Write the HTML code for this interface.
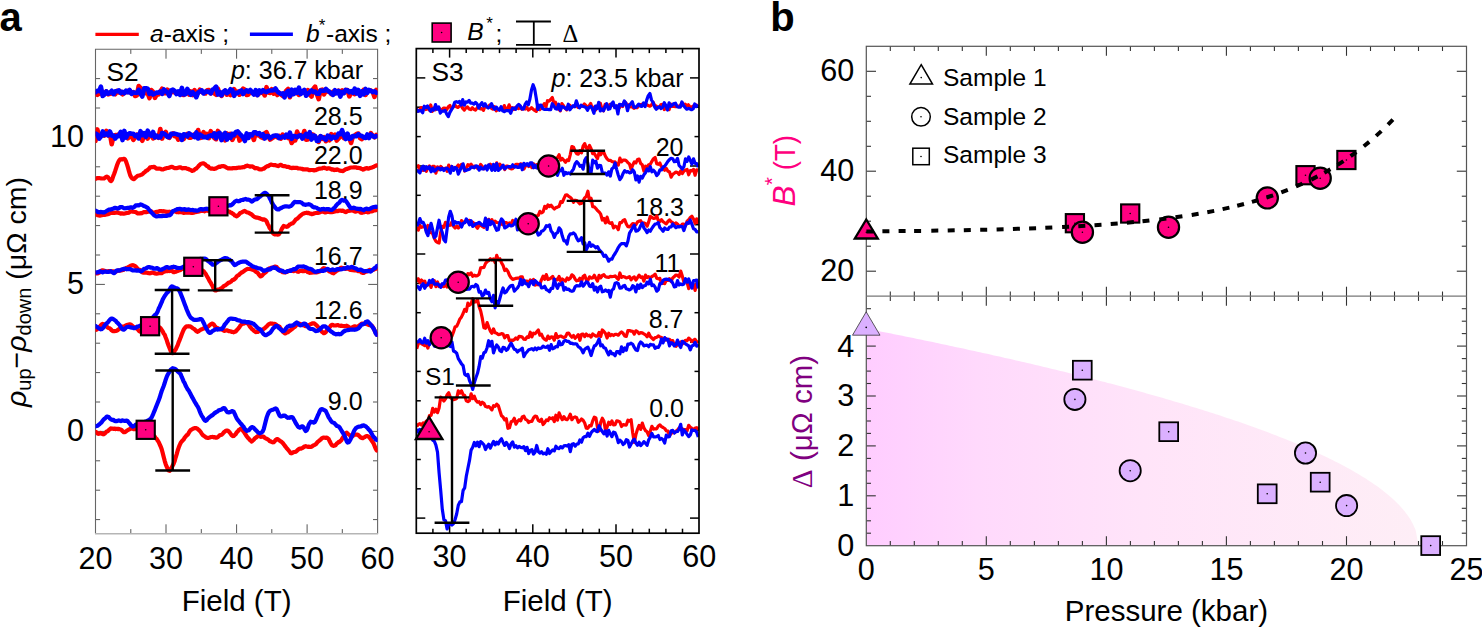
<!DOCTYPE html>
<html><head><meta charset="utf-8"><style>
html,body{margin:0;padding:0;background:#fff;}
body{width:1482px;height:628px;overflow:hidden;}
svg{display:block;}
</style></head><body>
<svg width="1482" height="628" viewBox="0 0 1482 628" font-family='"Liberation Sans", sans-serif'>
<defs>
<clipPath id="c2"><rect x="95.5" y="49.3" width="282.1" height="484.4"/></clipPath>
<clipPath id="c3"><rect x="416.3" y="48.6" width="282.7" height="484.6"/></clipPath>
<linearGradient id="pg" x1="0" x2="1" y1="0" y2="0"><stop offset="0" stop-color="#ffcdff"/><stop offset="0.2" stop-color="#ffd9fc"/><stop offset="0.5" stop-color="#ffe4f9"/><stop offset="1" stop-color="#feeef6"/></linearGradient>
</defs>
<rect width="1482" height="628" fill="#fff"/>
<text x="-0.5" y="30.8" font-size="40" font-weight="bold">a</text>
<text x="770.3" y="30.8" font-size="40" font-weight="bold">b</text>
<line x1="95.4" y1="34.4" x2="138.8" y2="34.4" stroke="#ff0000" stroke-width="3.4"/>
<line x1="249.9" y1="34.3" x2="292.9" y2="34.3" stroke="#0000ff" stroke-width="3.4"/>
<text x="150" y="42" font-size="24.5"><tspan font-style="italic">a</tspan>-axis ;</text>
<text x="306" y="42" font-size="24.5" font-style="italic">b</text>
<text x="318.7" y="30.7" font-size="17">*</text>
<text x="326" y="42" font-size="24.5">-axis ;</text>
<rect x="432.2" y="23.1" width="18.9" height="18.9" fill="#ff0080" stroke="#000" stroke-width="1.6"/>
<circle cx="441.6" cy="32.5" r="0.8" fill="#000"/>
<text x="467.3" y="40.4" font-size="24.6" font-style="italic">B</text>
<text x="486.2" y="29.3" font-size="17">*</text>
<text x="495.5" y="41.5" font-size="24.5">;</text>
<g stroke="#000" stroke-width="1.8"><line x1="516" y1="21.5" x2="550.9" y2="21.5"/><line x1="516" y1="44.9" x2="550.9" y2="44.9"/><line x1="533.8" y1="21.5" x2="533.8" y2="44.9"/></g>
<text x="562.5" y="41.5" font-size="24.5" font-family="Liberation Serif">Δ</text>
<line x1="130.8" y1="533.7" x2="130.8" y2="529.1" stroke="#555" stroke-width="1"/>
<line x1="130.8" y1="49.3" x2="130.8" y2="53.9" stroke="#555" stroke-width="1"/>
<line x1="166.0" y1="533.7" x2="166.0" y2="524.3" stroke="#555" stroke-width="1"/>
<line x1="166.0" y1="49.3" x2="166.0" y2="58.7" stroke="#555" stroke-width="1"/>
<line x1="201.3" y1="533.7" x2="201.3" y2="529.1" stroke="#555" stroke-width="1"/>
<line x1="201.3" y1="49.3" x2="201.3" y2="53.9" stroke="#555" stroke-width="1"/>
<line x1="236.6" y1="533.7" x2="236.6" y2="524.3" stroke="#555" stroke-width="1"/>
<line x1="236.6" y1="49.3" x2="236.6" y2="58.7" stroke="#555" stroke-width="1"/>
<line x1="271.8" y1="533.7" x2="271.8" y2="529.1" stroke="#555" stroke-width="1"/>
<line x1="271.8" y1="49.3" x2="271.8" y2="53.9" stroke="#555" stroke-width="1"/>
<line x1="307.1" y1="533.7" x2="307.1" y2="524.3" stroke="#555" stroke-width="1"/>
<line x1="307.1" y1="49.3" x2="307.1" y2="58.7" stroke="#555" stroke-width="1"/>
<line x1="342.3" y1="533.7" x2="342.3" y2="529.1" stroke="#555" stroke-width="1"/>
<line x1="342.3" y1="49.3" x2="342.3" y2="53.9" stroke="#555" stroke-width="1"/>
<line x1="95.5" y1="519.6" x2="100.1" y2="519.6" stroke="#555" stroke-width="1"/>
<line x1="377.6" y1="519.6" x2="373.0" y2="519.6" stroke="#555" stroke-width="1"/>
<line x1="95.5" y1="490.2" x2="100.1" y2="490.2" stroke="#555" stroke-width="1"/>
<line x1="377.6" y1="490.2" x2="373.0" y2="490.2" stroke="#555" stroke-width="1"/>
<line x1="95.5" y1="460.8" x2="100.1" y2="460.8" stroke="#555" stroke-width="1"/>
<line x1="377.6" y1="460.8" x2="373.0" y2="460.8" stroke="#555" stroke-width="1"/>
<line x1="95.5" y1="431.4" x2="104.9" y2="431.4" stroke="#555" stroke-width="1"/>
<line x1="377.6" y1="431.4" x2="368.2" y2="431.4" stroke="#555" stroke-width="1"/>
<line x1="95.5" y1="402.0" x2="100.1" y2="402.0" stroke="#555" stroke-width="1"/>
<line x1="377.6" y1="402.0" x2="373.0" y2="402.0" stroke="#555" stroke-width="1"/>
<line x1="95.5" y1="372.6" x2="100.1" y2="372.6" stroke="#555" stroke-width="1"/>
<line x1="377.6" y1="372.6" x2="373.0" y2="372.6" stroke="#555" stroke-width="1"/>
<line x1="95.5" y1="343.2" x2="100.1" y2="343.2" stroke="#555" stroke-width="1"/>
<line x1="377.6" y1="343.2" x2="373.0" y2="343.2" stroke="#555" stroke-width="1"/>
<line x1="95.5" y1="313.8" x2="100.1" y2="313.8" stroke="#555" stroke-width="1"/>
<line x1="377.6" y1="313.8" x2="373.0" y2="313.8" stroke="#555" stroke-width="1"/>
<line x1="95.5" y1="284.4" x2="104.9" y2="284.4" stroke="#555" stroke-width="1"/>
<line x1="377.6" y1="284.4" x2="368.2" y2="284.4" stroke="#555" stroke-width="1"/>
<line x1="95.5" y1="255.0" x2="100.1" y2="255.0" stroke="#555" stroke-width="1"/>
<line x1="377.6" y1="255.0" x2="373.0" y2="255.0" stroke="#555" stroke-width="1"/>
<line x1="95.5" y1="225.6" x2="100.1" y2="225.6" stroke="#555" stroke-width="1"/>
<line x1="377.6" y1="225.6" x2="373.0" y2="225.6" stroke="#555" stroke-width="1"/>
<line x1="95.5" y1="196.2" x2="100.1" y2="196.2" stroke="#555" stroke-width="1"/>
<line x1="377.6" y1="196.2" x2="373.0" y2="196.2" stroke="#555" stroke-width="1"/>
<line x1="95.5" y1="166.8" x2="100.1" y2="166.8" stroke="#555" stroke-width="1"/>
<line x1="377.6" y1="166.8" x2="373.0" y2="166.8" stroke="#555" stroke-width="1"/>
<line x1="95.5" y1="137.4" x2="104.9" y2="137.4" stroke="#555" stroke-width="1"/>
<line x1="377.6" y1="137.4" x2="368.2" y2="137.4" stroke="#555" stroke-width="1"/>
<line x1="95.5" y1="108.0" x2="100.1" y2="108.0" stroke="#555" stroke-width="1"/>
<line x1="377.6" y1="108.0" x2="373.0" y2="108.0" stroke="#555" stroke-width="1"/>
<line x1="95.5" y1="78.6" x2="100.1" y2="78.6" stroke="#555" stroke-width="1"/>
<line x1="377.6" y1="78.6" x2="373.0" y2="78.6" stroke="#555" stroke-width="1"/>
<path d="M95.5 533.7V49.3H377.6V533.7" fill="none" stroke="#666" stroke-width="1.1"/>
<line x1="95" y1="533.7" x2="378.1" y2="533.7" stroke="#b5b5b5" stroke-width="1.4"/>
<text x="84" y="441.1" font-size="30.6" text-anchor="end">0</text>
<text x="84" y="294.1" font-size="30.6" text-anchor="end">5</text>
<text x="84" y="147.1" font-size="30.6" text-anchor="end">10</text>
<text x="95.5" y="569.2" font-size="30.6" text-anchor="middle">20</text>
<text x="166.0" y="569.2" font-size="30.6" text-anchor="middle">30</text>
<text x="236.6" y="569.2" font-size="30.6" text-anchor="middle">40</text>
<text x="307.1" y="569.2" font-size="30.6" text-anchor="middle">50</text>
<text x="377.6" y="569.2" font-size="30.6" text-anchor="middle">60</text>
<text x="236.6" y="611.3" font-size="29.5" text-anchor="middle">Field (T)</text>
<text transform="translate(25.5,292) rotate(-90)" font-size="28.5" text-anchor="middle"><tspan font-style="italic">ρ</tspan><tspan font-size="20" dy="5">up</tspan><tspan dy="-5">−</tspan><tspan font-style="italic">ρ</tspan><tspan font-size="20" dy="5">down</tspan><tspan dy="-5"> (μΩ cm)</tspan></text>
<text x="106.5" y="80.6" font-size="26.3">S2</text>
<text x="363" y="78.5" font-size="25" text-anchor="end"><tspan font-style="italic">p</tspan>: 36.7 kbar</text>
<text x="362.6" y="124.8" font-size="25" text-anchor="end">28.5</text>
<text x="362.6" y="163.7" font-size="25" text-anchor="end">22.0</text>
<text x="362.6" y="198.7" font-size="25" text-anchor="end">18.9</text>
<text x="362.6" y="264.8" font-size="25" text-anchor="end">16.7</text>
<text x="362.6" y="319.3" font-size="25" text-anchor="end">12.6</text>
<text x="362.6" y="410.1" font-size="25" text-anchor="end">9.0</text>
<line x1="432.9" y1="533.2" x2="432.9" y2="528.7" stroke="#000" stroke-width="1.5"/>
<line x1="432.9" y1="48.6" x2="432.9" y2="53.1" stroke="#000" stroke-width="1.5"/>
<line x1="449.6" y1="533.2" x2="449.6" y2="524.2" stroke="#000" stroke-width="1.5"/>
<line x1="449.6" y1="48.6" x2="449.6" y2="57.6" stroke="#000" stroke-width="1.5"/>
<line x1="466.2" y1="533.2" x2="466.2" y2="528.7" stroke="#000" stroke-width="1.5"/>
<line x1="466.2" y1="48.6" x2="466.2" y2="53.1" stroke="#000" stroke-width="1.5"/>
<line x1="482.9" y1="533.2" x2="482.9" y2="528.7" stroke="#000" stroke-width="1.5"/>
<line x1="482.9" y1="48.6" x2="482.9" y2="53.1" stroke="#000" stroke-width="1.5"/>
<line x1="499.5" y1="533.2" x2="499.5" y2="528.7" stroke="#000" stroke-width="1.5"/>
<line x1="499.5" y1="48.6" x2="499.5" y2="53.1" stroke="#000" stroke-width="1.5"/>
<line x1="516.1" y1="533.2" x2="516.1" y2="528.7" stroke="#000" stroke-width="1.5"/>
<line x1="516.1" y1="48.6" x2="516.1" y2="53.1" stroke="#000" stroke-width="1.5"/>
<line x1="532.8" y1="533.2" x2="532.8" y2="524.2" stroke="#000" stroke-width="1.5"/>
<line x1="532.8" y1="48.6" x2="532.8" y2="57.6" stroke="#000" stroke-width="1.5"/>
<line x1="549.4" y1="533.2" x2="549.4" y2="528.7" stroke="#000" stroke-width="1.5"/>
<line x1="549.4" y1="48.6" x2="549.4" y2="53.1" stroke="#000" stroke-width="1.5"/>
<line x1="566.1" y1="533.2" x2="566.1" y2="528.7" stroke="#000" stroke-width="1.5"/>
<line x1="566.1" y1="48.6" x2="566.1" y2="53.1" stroke="#000" stroke-width="1.5"/>
<line x1="582.7" y1="533.2" x2="582.7" y2="528.7" stroke="#000" stroke-width="1.5"/>
<line x1="582.7" y1="48.6" x2="582.7" y2="53.1" stroke="#000" stroke-width="1.5"/>
<line x1="599.3" y1="533.2" x2="599.3" y2="528.7" stroke="#000" stroke-width="1.5"/>
<line x1="599.3" y1="48.6" x2="599.3" y2="53.1" stroke="#000" stroke-width="1.5"/>
<line x1="616.0" y1="533.2" x2="616.0" y2="524.2" stroke="#000" stroke-width="1.5"/>
<line x1="616.0" y1="48.6" x2="616.0" y2="57.6" stroke="#000" stroke-width="1.5"/>
<line x1="632.6" y1="533.2" x2="632.6" y2="528.7" stroke="#000" stroke-width="1.5"/>
<line x1="632.6" y1="48.6" x2="632.6" y2="53.1" stroke="#000" stroke-width="1.5"/>
<line x1="649.3" y1="533.2" x2="649.3" y2="528.7" stroke="#000" stroke-width="1.5"/>
<line x1="649.3" y1="48.6" x2="649.3" y2="53.1" stroke="#000" stroke-width="1.5"/>
<line x1="665.9" y1="533.2" x2="665.9" y2="528.7" stroke="#000" stroke-width="1.5"/>
<line x1="665.9" y1="48.6" x2="665.9" y2="53.1" stroke="#000" stroke-width="1.5"/>
<line x1="682.5" y1="533.2" x2="682.5" y2="528.7" stroke="#000" stroke-width="1.5"/>
<line x1="682.5" y1="48.6" x2="682.5" y2="53.1" stroke="#000" stroke-width="1.5"/>
<line x1="416.3" y1="77.9" x2="425.3" y2="77.9" stroke="#000" stroke-width="1.5"/>
<line x1="699" y1="77.9" x2="690.0" y2="77.9" stroke="#000" stroke-width="1.5"/>
<line x1="416.3" y1="107.2" x2="420.8" y2="107.2" stroke="#000" stroke-width="1.5"/>
<line x1="699" y1="107.2" x2="694.5" y2="107.2" stroke="#000" stroke-width="1.5"/>
<line x1="416.3" y1="136.6" x2="420.8" y2="136.6" stroke="#000" stroke-width="1.5"/>
<line x1="699" y1="136.6" x2="694.5" y2="136.6" stroke="#000" stroke-width="1.5"/>
<line x1="416.3" y1="166.0" x2="425.3" y2="166.0" stroke="#000" stroke-width="1.5"/>
<line x1="699" y1="166.0" x2="690.0" y2="166.0" stroke="#000" stroke-width="1.5"/>
<line x1="416.3" y1="195.3" x2="420.8" y2="195.3" stroke="#000" stroke-width="1.5"/>
<line x1="699" y1="195.3" x2="694.5" y2="195.3" stroke="#000" stroke-width="1.5"/>
<line x1="416.3" y1="224.7" x2="420.8" y2="224.7" stroke="#000" stroke-width="1.5"/>
<line x1="699" y1="224.7" x2="694.5" y2="224.7" stroke="#000" stroke-width="1.5"/>
<line x1="416.3" y1="254.0" x2="425.3" y2="254.0" stroke="#000" stroke-width="1.5"/>
<line x1="699" y1="254.0" x2="690.0" y2="254.0" stroke="#000" stroke-width="1.5"/>
<line x1="416.3" y1="283.4" x2="420.8" y2="283.4" stroke="#000" stroke-width="1.5"/>
<line x1="699" y1="283.4" x2="694.5" y2="283.4" stroke="#000" stroke-width="1.5"/>
<line x1="416.3" y1="312.7" x2="420.8" y2="312.7" stroke="#000" stroke-width="1.5"/>
<line x1="699" y1="312.7" x2="694.5" y2="312.7" stroke="#000" stroke-width="1.5"/>
<line x1="416.3" y1="342.1" x2="425.3" y2="342.1" stroke="#000" stroke-width="1.5"/>
<line x1="699" y1="342.1" x2="690.0" y2="342.1" stroke="#000" stroke-width="1.5"/>
<line x1="416.3" y1="371.4" x2="420.8" y2="371.4" stroke="#000" stroke-width="1.5"/>
<line x1="699" y1="371.4" x2="694.5" y2="371.4" stroke="#000" stroke-width="1.5"/>
<line x1="416.3" y1="400.8" x2="420.8" y2="400.8" stroke="#000" stroke-width="1.5"/>
<line x1="699" y1="400.8" x2="694.5" y2="400.8" stroke="#000" stroke-width="1.5"/>
<line x1="416.3" y1="430.1" x2="425.3" y2="430.1" stroke="#000" stroke-width="1.5"/>
<line x1="699" y1="430.1" x2="690.0" y2="430.1" stroke="#000" stroke-width="1.5"/>
<line x1="416.3" y1="459.5" x2="420.8" y2="459.5" stroke="#000" stroke-width="1.5"/>
<line x1="699" y1="459.5" x2="694.5" y2="459.5" stroke="#000" stroke-width="1.5"/>
<line x1="416.3" y1="488.8" x2="420.8" y2="488.8" stroke="#000" stroke-width="1.5"/>
<line x1="699" y1="488.8" x2="694.5" y2="488.8" stroke="#000" stroke-width="1.5"/>
<line x1="416.3" y1="518.1" x2="425.3" y2="518.1" stroke="#000" stroke-width="1.5"/>
<line x1="699" y1="518.1" x2="690.0" y2="518.1" stroke="#000" stroke-width="1.5"/>
<text x="449.6" y="567.4" font-size="30.6" text-anchor="middle">30</text>
<text x="532.8" y="567.4" font-size="30.6" text-anchor="middle">40</text>
<text x="616.0" y="567.4" font-size="30.6" text-anchor="middle">50</text>
<text x="699.2" y="567.4" font-size="30.6" text-anchor="middle">60</text>
<text x="557.7" y="611" font-size="29.5" text-anchor="middle">Field (T)</text>
<text x="431.5" y="81.2" font-size="26.3">S3</text>
<text x="683.6" y="87" font-size="25" text-anchor="end"><tspan font-style="italic">p</tspan>: 23.5 kbar</text>
<text x="683.5" y="155.7" font-size="25" text-anchor="end">20</text>
<text x="684" y="215.6" font-size="25" text-anchor="end">18.3</text>
<text x="680.5" y="271.7" font-size="25" text-anchor="end">11</text>
<text x="683.5" y="328.3" font-size="25" text-anchor="end">8.7</text>
<text x="684" y="416.8" font-size="25" text-anchor="end">0.0</text>
<text x="425" y="384.6" font-size="24.5">S1</text>
<g clip-path="url(#c2)" fill="none" stroke-width="4.2" stroke-linejoin="round" stroke-linecap="round">
<path d="M95.5 93.7L97.3 94.9L99.1 93.6L100.9 89.5L102.7 95.1L104.5 93.9L106.3 91.5L108.1 94.3L109.9 93.7L111.7 93.5L113.5 92.9L115.3 94.2L117.1 91.0L118.9 92.4L120.7 91.6L122.5 94.3L124.3 92.9L126.1 92.1L127.9 90.8L129.7 92.2L131.5 92.8L133.3 92.1L135.1 96.0L136.9 95.3L138.7 86.0L140.5 88.1L142.3 92.4L144.1 91.7L145.9 93.3L147.7 93.3L149.5 98.1L151.3 90.0L153.1 91.9L154.9 97.9L156.7 94.4L158.5 94.5L160.3 91.5L162.1 88.7L163.9 93.2L165.7 93.1L167.5 89.7L169.3 91.1L171.1 92.6L172.9 90.4L174.7 92.6L176.5 93.0L178.3 92.9L180.1 91.5L181.9 94.3L183.7 95.0L185.5 93.6L187.3 90.8L189.1 94.6L190.9 91.5L192.7 95.0L194.5 90.1L196.3 95.1L198.1 92.7L199.9 89.7L201.7 92.0L203.5 92.9L205.3 93.5L207.1 90.3L208.9 90.0L210.7 93.3L212.5 91.6L214.3 93.4L216.1 94.7L217.9 88.7L219.7 93.4L221.5 95.9L223.3 92.1L225.1 90.8L226.9 94.7L228.7 93.4L230.5 95.0L232.3 91.9L234.1 89.1L235.9 92.5L237.7 91.7L239.5 94.7L241.3 93.3L243.1 88.7L244.9 89.8L246.7 95.0L248.5 94.5L250.3 91.2L252.1 92.8L253.9 93.9L255.7 94.0L257.5 95.0L259.3 93.4L261.1 92.6L262.9 92.2L264.7 95.4L266.5 87.2L268.3 92.5L270.1 92.9L271.9 89.2L273.7 93.6L275.5 91.2L277.3 95.0L279.1 92.5L280.9 94.5L282.7 95.8L284.5 93.8L286.3 90.6L288.1 89.0L289.9 97.2L291.7 92.5L293.5 91.1L295.3 93.2L297.1 92.3L298.9 94.9L300.7 92.9L302.5 92.8L304.3 91.0L306.1 94.0L307.9 90.2L309.7 94.5L311.5 96.6L313.3 89.0L315.1 86.6L316.9 94.3L318.7 99.2L320.5 90.3L322.3 89.7L324.1 94.3L325.9 90.7L327.7 91.5L329.5 91.9L331.3 94.1L333.1 91.8L334.9 93.5L336.7 92.4L338.5 90.7L340.3 92.0L342.1 90.4L343.9 92.8L345.7 90.0L347.5 90.1L349.3 96.4L351.1 92.7L352.9 92.7L354.7 94.1L356.5 91.7L358.3 92.2L360.1 93.9L361.9 93.5L363.7 89.9L365.5 94.9L367.3 91.3L369.1 90.2L370.9 90.5L372.7 91.8L374.5 96.9L376.3 89.9" stroke="#ff0000" stroke-width="4.6"/>
<path d="M95.5 92.4L97.3 90.8L99.1 91.1L100.9 86.6L102.7 96.0L104.5 94.5L106.3 91.3L108.1 93.7L109.9 92.6L111.7 90.8L113.5 94.2L115.3 91.3L117.1 91.3L118.9 90.3L120.7 93.0L122.5 91.8L124.3 93.2L126.1 90.7L127.9 92.3L129.7 90.0L131.5 93.9L133.3 92.4L135.1 92.7L136.9 92.9L138.7 89.8L140.5 93.7L142.3 96.5L144.1 88.4L145.9 88.2L147.7 88.7L149.5 93.9L151.3 92.3L153.1 94.4L154.9 93.6L156.7 92.5L158.5 92.6L160.3 91.6L162.1 93.9L163.9 89.5L165.7 91.1L167.5 92.5L169.3 96.0L171.1 90.3L172.9 89.6L174.7 90.8L176.5 94.1L178.3 91.5L180.1 94.9L181.9 87.9L183.7 94.5L185.5 94.3L187.3 88.9L189.1 92.3L190.9 94.7L192.7 92.2L194.5 94.2L196.3 97.2L198.1 92.6L199.9 91.4L201.7 90.3L203.5 93.4L205.3 91.6L207.1 91.6L208.9 91.8L210.7 93.4L212.5 89.7L214.3 88.6L216.1 86.6L217.9 94.6L219.7 92.2L221.5 95.3L223.3 92.0L225.1 90.4L226.9 93.1L228.7 91.8L230.5 89.2L232.3 90.1L234.1 95.9L235.9 92.8L237.7 92.9L239.5 91.4L241.3 90.5L243.1 94.0L244.9 91.8L246.7 90.3L248.5 91.7L250.3 90.0L252.1 92.4L253.9 94.5L255.7 90.2L257.5 95.1L259.3 90.5L261.1 92.3L262.9 90.2L264.7 91.5L266.5 92.1L268.3 91.0L270.1 90.5L271.9 90.5L273.7 90.2L275.5 88.5L277.3 91.4L279.1 92.9L280.9 94.0L282.7 93.4L284.5 97.4L286.3 92.7L288.1 91.0L289.9 96.1L291.7 89.7L293.5 94.1L295.3 89.9L297.1 92.8L298.9 87.7L300.7 94.0L302.5 91.7L304.3 89.9L306.1 95.7L307.9 93.7L309.7 92.1L311.5 90.4L313.3 91.9L315.1 91.6L316.9 93.6L318.7 93.8L320.5 90.5L322.3 90.8L324.1 90.8L325.9 89.0L327.7 90.7L329.5 91.8L331.3 93.5L333.1 94.9L334.9 90.2L336.7 93.2L338.5 91.0L340.3 96.6L342.1 91.9L343.9 93.1L345.7 89.9L347.5 90.2L349.3 92.4L351.1 91.2L352.9 92.8L354.7 88.6L356.5 93.5L358.3 90.0L360.1 95.8L361.9 91.4L363.7 94.4L365.5 88.9L367.3 92.9L369.1 90.0L370.9 90.9L372.7 92.1L374.5 91.3L376.3 92.6" stroke="#0000ff" stroke-width="4.6"/>
<path d="M95.5 140.9L97.3 129.4L99.1 136.9L100.9 134.4L102.7 134.7L104.5 135.3L106.3 130.8L108.1 135.3L109.9 133.7L111.7 144.2L113.5 136.4L115.3 135.0L117.1 135.2L118.9 134.2L120.7 133.3L122.5 134.9L124.3 137.1L126.1 135.3L127.9 138.3L129.7 135.4L131.5 136.0L133.3 139.8L135.1 137.3L136.9 134.7L138.7 135.5L140.5 137.3L142.3 140.8L144.1 135.3L145.9 135.4L147.7 138.5L149.5 133.8L151.3 135.3L153.1 138.3L154.9 137.5L156.7 136.3L158.5 137.7L160.3 129.0L162.1 138.6L163.9 133.7L165.7 131.9L167.5 136.8L169.3 137.9L171.1 135.0L172.9 133.4L174.7 136.2L176.5 136.0L178.3 139.7L180.1 138.0L181.9 136.7L183.7 139.0L185.5 135.7L187.3 133.9L189.1 137.7L190.9 137.7L192.7 135.7L194.5 134.3L196.3 136.8L198.1 130.0L199.9 138.0L201.7 137.5L203.5 132.2L205.3 136.4L207.1 133.9L208.9 138.2L210.7 131.2L212.5 134.0L214.3 138.1L216.1 139.2L217.9 130.9L219.7 135.1L221.5 137.2L223.3 134.8L225.1 140.3L226.9 133.4L228.7 137.3L230.5 133.8L232.3 139.9L234.1 136.3L235.9 135.5L237.7 132.1L239.5 140.6L241.3 138.3L243.1 138.3L244.9 139.3L246.7 137.3L248.5 134.9L250.3 134.5L252.1 134.5L253.9 139.9L255.7 132.8L257.5 135.0L259.3 135.7L261.1 137.1L262.9 138.0L264.7 133.4L266.5 132.2L268.3 136.5L270.1 139.6L271.9 138.4L273.7 137.1L275.5 135.8L277.3 137.3L279.1 136.0L280.9 138.6L282.7 134.6L284.5 136.9L286.3 136.3L288.1 138.0L289.9 137.2L291.7 143.0L293.5 140.4L295.3 140.4L297.1 131.6L298.9 135.8L300.7 135.2L302.5 138.0L304.3 131.0L306.1 139.6L307.9 139.4L309.7 133.5L311.5 134.3L313.3 134.7L315.1 136.8L316.9 138.3L318.7 141.9L320.5 136.3L322.3 138.7L324.1 137.2L325.9 141.2L327.7 138.6L329.5 140.2L331.3 134.1L333.1 136.3L334.9 134.8L336.7 140.6L338.5 138.5L340.3 136.1L342.1 135.7L343.9 138.1L345.7 135.1L347.5 134.5L349.3 138.1L351.1 143.0L352.9 136.3L354.7 135.5L356.5 134.0L358.3 133.6L360.1 138.2L361.9 139.1L363.7 137.0L365.5 137.8L367.3 137.2L369.1 137.3L370.9 133.2L372.7 135.8L374.5 137.3L376.3 135.0" stroke="#ff0000" stroke-width="4.6"/>
<path d="M95.5 133.6L97.3 134.6L99.1 138.7L100.9 136.5L102.7 131.4L104.5 135.0L106.3 133.7L108.1 135.4L109.9 131.5L111.7 135.6L113.5 135.6L115.3 138.6L117.1 135.8L118.9 136.2L120.7 131.8L122.5 140.1L124.3 130.9L126.1 137.6L127.9 134.4L129.7 133.2L131.5 133.7L133.3 133.7L135.1 136.0L136.9 134.9L138.7 138.4L140.5 131.2L142.3 135.2L144.1 133.2L145.9 136.9L147.7 130.6L149.5 134.5L151.3 135.7L153.1 132.0L154.9 137.4L156.7 135.7L158.5 137.5L160.3 137.4L162.1 133.1L163.9 133.5L165.7 134.9L167.5 137.0L169.3 137.2L171.1 133.8L172.9 134.0L174.7 133.6L176.5 134.1L178.3 134.8L180.1 135.1L181.9 139.9L183.7 134.3L185.5 134.7L187.3 136.4L189.1 133.3L190.9 134.6L192.7 135.4L194.5 137.1L196.3 132.5L198.1 138.5L199.9 134.7L201.7 135.8L203.5 137.3L205.3 136.9L207.1 137.8L208.9 135.9L210.7 135.4L212.5 136.2L214.3 133.3L216.1 138.2L217.9 133.8L219.7 132.8L221.5 140.1L223.3 135.2L225.1 133.0L226.9 139.6L228.7 134.8L230.5 137.9L232.3 133.8L234.1 135.0L235.9 131.9L237.7 131.4L239.5 133.5L241.3 135.4L243.1 137.4L244.9 141.0L246.7 133.4L248.5 137.9L250.3 134.3L252.1 135.3L253.9 132.4L255.7 132.4L257.5 134.0L259.3 133.1L261.1 135.7L262.9 134.2L264.7 138.5L266.5 136.1L268.3 136.1L270.1 138.2L271.9 136.9L273.7 135.7L275.5 135.6L277.3 135.5L279.1 138.1L280.9 137.5L282.7 136.6L284.5 137.6L286.3 134.6L288.1 136.9L289.9 132.7L291.7 138.8L293.5 136.0L295.3 136.3L297.1 137.2L298.9 135.8L300.7 135.3L302.5 138.5L304.3 136.1L306.1 133.9L307.9 136.9L309.7 132.2L311.5 139.6L313.3 135.5L315.1 136.0L316.9 140.9L318.7 140.7L320.5 136.2L322.3 137.3L324.1 138.4L325.9 139.7L327.7 135.7L329.5 136.3L331.3 138.7L333.1 136.6L334.9 137.7L336.7 137.4L338.5 133.5L340.3 134.2L342.1 130.2L343.9 135.5L345.7 139.0L347.5 133.6L349.3 138.8L351.1 138.3L352.9 136.0L354.7 136.1L356.5 136.3L358.3 134.2L360.1 135.5L361.9 136.0L363.7 137.5L365.5 137.9L367.3 134.5L369.1 138.0L370.9 134.5L372.7 135.8L374.5 137.0L376.3 136.1" stroke="#0000ff" stroke-width="4.6"/>
<path d="M95.1 178.8L96.1 178.7L97.1 178.2L98.1 178.1L99.1 178.0L100.1 178.2L101.1 178.4L102.1 178.5L103.1 178.5L104.1 178.5L105.1 177.6L106.1 176.8L107.1 176.7L108.1 177.3L109.1 178.8L110.1 180.6L111.1 181.1L112.1 179.7L113.1 176.6L114.1 174.0L115.1 171.2L116.1 168.1L117.1 165.0L118.1 162.4L119.1 160.6L120.1 159.4L121.1 159.2L122.1 159.5L123.1 159.1L124.1 158.8L125.1 159.5L126.1 161.7L127.1 164.6L128.1 167.9L129.1 171.7L130.1 175.0L131.1 177.0L132.1 178.4L133.1 178.9L134.1 179.2L135.1 178.1L136.1 177.1L137.1 176.2L138.1 175.7L139.1 175.5L140.1 175.3L141.1 174.7L142.1 174.4L143.1 173.6L144.1 172.6L145.1 171.8L146.1 170.7L147.1 170.4L148.1 169.4L149.1 168.7L150.1 167.4L151.1 167.3L152.1 167.0L153.1 167.1L154.1 166.8L155.1 167.5L156.1 168.4L157.1 168.7L158.1 168.7L159.1 168.5L160.1 168.7L161.1 169.2L162.1 169.5L163.1 169.4L164.1 168.9L165.1 168.6L166.1 168.4L167.1 168.0L168.1 167.9L169.1 167.7L170.1 167.3L171.1 166.8L172.1 166.8L173.1 167.4L174.1 167.9L175.1 168.2L176.1 168.2L177.1 168.1L178.1 167.8L179.1 167.3L180.1 167.3L181.1 167.6L182.1 168.4L183.1 168.2L184.1 168.1L185.1 168.1L186.1 168.2L187.1 168.8L188.1 168.8L189.1 169.4L190.1 169.7L191.1 170.3L192.1 170.9L193.1 170.6L194.1 170.2L195.1 169.1L196.1 168.8L197.1 167.7L198.1 166.6L199.1 165.4L200.1 164.4L201.1 163.7L202.1 163.5L203.1 163.3L204.1 163.6L205.1 164.3L206.1 165.3L207.1 166.2L208.1 166.3L209.1 167.7L210.1 168.1L211.1 168.7L212.1 168.4L213.1 168.7L214.1 168.9L215.1 168.6L216.1 168.4L217.1 167.6L218.1 167.2L219.1 166.7L220.1 166.8L221.1 166.3L222.1 166.2L223.1 166.0L224.1 166.4L225.1 166.6L226.1 167.4L227.1 167.9L228.1 168.4L229.1 168.2L230.1 168.5L231.1 168.4L232.1 168.4L233.1 168.1L234.1 168.0L235.1 168.1L236.1 168.1L237.1 167.9L238.1 167.7L239.1 167.6L240.1 167.7L241.1 167.5L242.1 167.3L243.1 167.2L244.1 167.1L245.1 166.5L246.1 166.0L247.1 165.6L248.1 165.9L249.1 166.2L250.1 166.7L251.1 166.5L252.1 166.3L253.1 166.9L254.1 167.5L255.1 168.3L256.1 168.0L257.1 168.3L258.1 168.6L259.1 169.2L260.1 169.4L261.1 169.3L262.1 169.3L263.1 168.7L264.1 168.6L265.1 167.5L266.1 166.9L267.1 166.2L268.1 166.2L269.1 165.5L270.1 164.9L271.1 164.5L272.1 164.9L273.1 165.0L274.1 165.2L275.1 165.1L276.1 165.4L277.1 165.8L278.1 166.1L279.1 165.6L280.1 164.9L281.1 164.9L282.1 165.8L283.1 166.1L284.1 166.2L285.1 166.2L286.1 166.6L287.1 166.9L288.1 166.9L289.1 167.1L290.1 167.7L291.1 167.9L292.1 168.1L293.1 167.7L294.1 168.0L295.1 167.8L296.1 167.9L297.1 167.9L298.1 168.5L299.1 168.5L300.1 168.5L301.1 168.7L302.1 168.9L303.1 169.5L304.1 169.3L305.1 169.4L306.1 169.3L307.1 169.4L308.1 169.6L309.1 170.1L310.1 170.1L311.1 170.0L312.1 170.0L313.1 170.1L314.1 170.4L315.1 170.1L316.1 170.1L317.1 169.3L318.1 169.1L319.1 168.5L320.1 168.7L321.1 168.5L322.1 168.4L323.1 167.9L324.1 167.7L325.1 168.2L326.1 168.3L327.1 168.8L328.1 168.2L329.1 168.4L330.1 168.6L331.1 169.1L332.1 169.7L333.1 169.3L334.1 170.1L335.1 169.7L336.1 170.0L337.1 169.4L338.1 169.9L339.1 170.3L340.1 170.7L341.1 170.8L342.1 170.9L343.1 171.1L344.1 170.4L345.1 169.6L346.1 169.0L347.1 168.9L348.1 168.6L349.1 168.1L350.1 167.7L351.1 167.5L352.1 167.5L353.1 167.5L354.1 167.3L355.1 167.4L356.1 167.4L357.1 167.9L358.1 167.8L359.1 168.1L360.1 168.0L361.1 168.7L362.1 169.0L363.1 169.6L364.1 169.2L365.1 168.5L366.1 168.2L367.1 168.2L368.1 168.7L369.1 168.4L370.1 168.0L371.1 167.7L372.1 167.4L373.1 167.1L374.1 166.6L375.1 165.9L376.1 165.6L377.1 165.3" stroke="#ff0000"/>
<path d="M95.7 214.6L96.7 214.7L97.7 215.3L98.7 215.5L99.7 215.6L100.7 215.4L101.7 215.2L102.7 214.9L103.7 214.8L104.7 214.9L105.7 214.6L106.7 214.5L107.7 214.3L108.7 214.0L109.7 213.4L110.7 213.0L111.7 213.0L112.7 212.9L113.7 212.9L114.7 212.8L115.7 212.7L116.7 212.4L117.7 212.4L118.7 213.0L119.7 213.2L120.7 213.7L121.7 213.3L122.7 213.6L123.7 213.7L124.7 213.5L125.7 213.2L126.7 212.9L127.7 212.9L128.7 212.7L129.7 212.0L130.7 211.4L131.7 211.3L132.7 211.7L133.7 211.7L134.7 212.0L135.7 212.0L136.7 212.8L137.7 213.4L138.7 213.4L139.7 213.5L140.7 213.1L141.7 213.3L142.7 212.6L143.7 212.2L144.7 212.1L145.7 212.2L146.7 212.1L147.7 211.7L148.7 211.6L149.7 211.1L150.7 211.4L151.7 211.6L152.7 212.7L153.7 212.8L154.7 212.6L155.7 212.0L156.7 211.8L157.7 211.9L158.7 211.4L159.7 211.1L160.7 211.1L161.7 211.2L162.7 211.5L163.7 211.1L164.7 211.5L165.7 211.6L166.7 212.1L167.7 211.9L168.7 211.9L169.7 211.7L170.7 212.3L171.7 211.9L172.7 211.6L173.7 211.0L174.7 211.5L175.7 211.5L176.7 212.1L177.7 212.0L178.7 212.3L179.7 212.0L180.7 212.2L181.7 212.1L182.7 212.6L183.7 212.9L184.7 212.7L185.7 212.7L186.7 212.3L187.7 212.7L188.7 212.7L189.7 212.5L190.7 212.8L191.7 212.8L192.7 212.8L193.7 212.7L194.7 212.1L195.7 212.1L196.7 211.6L197.7 211.8L198.7 211.4L199.7 211.3L200.7 211.0L201.7 210.9L202.7 211.0L203.7 210.8L204.7 211.3L205.7 210.7L206.7 210.6L207.7 210.2L208.7 211.0L209.7 211.3L210.7 211.5L211.7 211.0L212.7 210.8L213.7 210.9L214.7 211.0L215.7 211.2L216.7 210.8L217.7 210.7L218.7 210.4L219.7 210.9L220.7 211.2L221.7 211.3L222.7 211.3L223.7 211.6L224.7 211.8L225.7 211.6L226.7 211.1L227.7 211.0L228.7 211.4L229.7 211.7L230.7 212.7L231.7 212.9L232.7 213.8L233.7 214.2L234.7 215.5L235.7 215.8L236.7 216.3L237.7 215.5L238.7 214.9L239.7 213.5L240.7 212.7L241.7 212.4L242.7 211.9L243.7 211.2L244.7 210.9L245.7 211.6L246.7 212.2L247.7 212.5L248.7 212.8L249.7 213.4L250.7 214.0L251.7 214.5L252.7 215.4L253.7 216.4L254.7 217.1L255.7 217.4L256.7 217.6L257.7 217.6L258.7 218.1L259.7 218.1L260.7 219.0L261.7 219.1L262.7 219.6L263.7 219.4L264.7 219.6L265.7 220.3L266.7 221.6L267.7 224.1L268.7 225.7L269.7 228.1L270.7 229.2L271.7 231.3L272.7 232.8L273.7 233.9L274.7 234.4L275.7 234.1L276.7 234.5L277.7 234.6L278.7 234.5L279.7 233.1L280.7 231.5L281.7 229.0L282.7 227.5L283.7 226.0L284.7 226.3L285.7 226.5L286.7 226.9L287.7 226.5L288.7 225.6L289.7 224.5L290.7 224.1L291.7 223.4L292.7 223.4L293.7 222.3L294.7 221.0L295.7 219.6L296.7 219.0L297.7 218.4L298.7 217.3L299.7 216.2L300.7 215.5L301.7 214.6L302.7 213.9L303.7 213.5L304.7 213.1L305.7 213.0L306.7 212.7L307.7 213.1L308.7 212.9L309.7 213.6L310.7 213.5L311.7 214.1L312.7 213.9L313.7 213.7L314.7 213.2L315.7 213.0L316.7 213.0L317.7 213.0L318.7 212.7L319.7 212.4L320.7 211.9L321.7 211.6L322.7 211.6L323.7 211.9L324.7 212.3L325.7 212.4L326.7 211.9L327.7 211.7L328.7 211.7L329.7 212.1L330.7 212.0L331.7 212.2L332.7 211.9L333.7 211.8L334.7 211.0L335.7 211.3L336.7 211.1L337.7 211.2L338.7 210.6L339.7 210.7L340.7 210.6L341.7 210.9L342.7 210.6L343.7 211.2L344.7 211.7L345.7 212.1L346.7 211.6L347.7 210.8L348.7 210.9L349.7 210.7L350.7 210.7L351.7 210.2L352.7 210.4L353.7 211.1L354.7 211.4L355.7 211.7L356.7 211.2L357.7 211.2L358.7 211.0L359.7 211.7L360.7 212.6L361.7 212.8L362.7 212.3L363.7 212.3L364.7 211.8L365.7 212.0L366.7 211.6L367.7 212.3L368.7 212.2L369.7 211.5L370.7 211.3L371.7 211.3L372.7 211.2L373.7 210.4L374.7 210.4L375.7 210.2L376.7 209.9" stroke="#ff0000"/>
<path d="M95.7 210.7L96.7 211.1L97.7 212.1L98.7 212.1L99.7 212.3L100.7 211.9L101.7 212.0L102.7 212.4L103.7 212.5L104.7 212.0L105.7 211.6L106.7 210.9L107.7 210.4L108.7 209.7L109.7 209.6L110.7 209.4L111.7 209.2L112.7 208.8L113.7 208.5L114.7 207.8L115.7 207.8L116.7 208.3L117.7 208.6L118.7 208.3L119.7 207.5L120.7 207.0L121.7 207.0L122.7 207.4L123.7 208.1L124.7 208.3L125.7 208.2L126.7 208.0L127.7 207.8L128.7 208.0L129.7 207.6L130.7 207.4L131.7 207.3L132.7 207.8L133.7 207.2L134.7 206.6L135.7 205.4L136.7 205.4L137.7 205.2L138.7 205.5L139.7 204.9L140.7 204.4L141.7 204.7L142.7 205.3L143.7 205.9L144.7 206.2L145.7 206.6L146.7 207.4L147.7 207.9L148.7 209.3L149.7 210.4L150.7 211.6L151.7 212.8L152.7 213.7L153.7 214.9L154.7 215.7L155.7 216.2L156.7 216.5L157.7 216.3L158.7 216.1L159.7 216.2L160.7 216.1L161.7 216.2L162.7 215.8L163.7 215.8L164.7 215.9L165.7 215.9L166.7 215.8L167.7 215.3L168.7 215.5L169.7 215.3L170.7 214.6L171.7 212.9L172.7 211.3L173.7 210.7L174.7 210.5L175.7 209.9L176.7 209.5L177.7 209.0L178.7 209.1L179.7 208.8L180.7 209.1L181.7 209.6L182.7 209.3L183.7 209.3L184.7 209.0L185.7 210.0L186.7 209.9L187.7 209.6L188.7 209.4L189.7 209.8L190.7 210.1L191.7 210.0L192.7 209.9L193.7 210.4L194.7 210.3L195.7 210.4L196.7 210.7L197.7 210.6L198.7 210.2L199.7 209.3L200.7 209.2L201.7 209.1L202.7 209.6L203.7 209.3L204.7 209.1L205.7 208.9L206.7 208.7L207.7 209.2L208.7 209.0L209.7 208.9L210.7 208.3L211.7 207.6L212.7 207.6L213.7 207.5L214.7 207.8L215.7 208.1L216.7 207.6L217.7 207.1L218.7 206.2L219.7 206.3L220.7 206.2L221.7 206.7L222.7 206.4L223.7 206.5L224.7 206.0L225.7 206.0L226.7 206.0L227.7 205.7L228.7 205.6L229.7 205.2L230.7 205.3L231.7 204.8L232.7 204.0L233.7 202.9L234.7 201.8L235.7 201.1L236.7 200.7L237.7 201.1L238.7 201.3L239.7 201.0L240.7 200.3L241.7 200.0L242.7 200.0L243.7 199.5L244.7 199.2L245.7 198.9L246.7 199.7L247.7 199.7L248.7 199.7L249.7 200.0L250.7 200.7L251.7 201.5L252.7 201.0L253.7 200.2L254.7 199.5L255.7 199.3L256.7 199.2L257.7 198.5L258.7 197.6L259.7 196.9L260.7 196.0L261.7 195.2L262.7 194.2L263.7 193.3L264.7 192.8L265.7 193.1L266.7 193.7L267.7 195.0L268.7 196.0L269.7 198.2L270.7 200.0L271.7 202.3L272.7 203.9L273.7 205.7L274.7 206.9L275.7 208.1L276.7 209.2L277.7 209.4L278.7 209.5L279.7 208.7L280.7 208.2L281.7 207.8L282.7 207.1L283.7 206.7L284.7 206.4L285.7 206.4L286.7 206.3L287.7 206.5L288.7 206.7L289.7 206.4L290.7 206.1L291.7 205.3L292.7 204.2L293.7 202.8L294.7 201.9L295.7 202.1L296.7 202.1L297.7 202.1L298.7 202.1L299.7 202.0L300.7 202.4L301.7 202.8L302.7 203.7L303.7 204.5L304.7 204.6L305.7 204.9L306.7 204.5L307.7 204.5L308.7 204.1L309.7 204.5L310.7 204.9L311.7 205.7L312.7 206.7L313.7 207.4L314.7 207.2L315.7 207.5L316.7 207.7L317.7 208.7L318.7 209.0L319.7 209.4L320.7 209.7L321.7 209.2L322.7 209.1L323.7 208.9L324.7 209.3L325.7 209.4L326.7 209.1L327.7 209.3L328.7 209.0L329.7 209.7L330.7 209.8L331.7 209.9L332.7 209.3L333.7 208.2L334.7 207.6L335.7 206.1L336.7 204.9L337.7 203.8L338.7 203.1L339.7 202.2L340.7 200.6L341.7 199.9L342.7 200.1L343.7 200.6L344.7 200.7L345.7 200.8L346.7 202.1L347.7 203.5L348.7 205.2L349.7 206.6L350.7 208.2L351.7 208.2L352.7 208.2L353.7 207.6L354.7 208.1L355.7 208.4L356.7 208.7L357.7 208.8L358.7 208.9L359.7 209.1L360.7 208.9L361.7 209.4L362.7 209.7L363.7 210.3L364.7 209.4L365.7 208.8L366.7 208.7L367.7 209.2L368.7 209.2L369.7 208.9L370.7 208.4L371.7 207.8L372.7 207.4L373.7 207.0L374.7 206.9L375.7 206.7L376.7 206.8" stroke="#0000ff"/>
<path d="M95.6 273.3L96.6 273.3L97.6 273.5L98.6 272.9L99.6 272.4L100.6 271.4L101.6 270.6L102.6 270.3L103.6 270.5L104.6 270.7L105.6 271.3L106.6 271.4L107.6 271.3L108.6 271.2L109.6 271.2L110.6 271.5L111.6 271.2L112.6 271.4L113.6 271.4L114.6 271.7L115.6 271.8L116.6 271.4L117.6 270.7L118.6 270.4L119.6 270.7L120.6 270.4L121.6 270.4L122.6 269.9L123.6 269.9L124.6 268.8L125.6 268.5L126.6 267.8L127.6 267.7L128.6 266.9L129.6 266.4L130.6 265.8L131.6 265.4L132.6 265.2L133.6 265.3L134.6 265.8L135.6 266.5L136.6 267.5L137.6 268.9L138.6 269.5L139.6 269.7L140.6 270.3L141.6 271.8L142.6 272.4L143.6 272.6L144.6 272.0L145.6 272.6L146.6 272.6L147.6 272.9L148.6 273.1L149.6 273.3L150.6 273.2L151.6 272.7L152.6 272.7L153.6 272.9L154.6 273.3L155.6 273.4L156.6 273.7L157.6 273.5L158.6 273.2L159.6 272.8L160.6 273.2L161.6 273.2L162.6 272.5L163.6 271.9L164.6 271.0L165.6 271.3L166.6 270.9L167.6 271.2L168.6 270.7L169.6 271.1L170.6 270.7L171.6 271.1L172.6 271.2L173.6 272.2L174.6 272.1L175.6 271.8L176.6 271.3L177.6 271.0L178.6 270.6L179.6 270.2L180.6 269.9L181.6 269.1L182.6 268.5L183.6 269.0L184.6 269.0L185.6 269.2L186.6 268.8L187.6 268.8L188.6 268.7L189.6 269.0L190.6 268.6L191.6 268.7L192.6 268.7L193.6 269.3L194.6 269.3L195.6 269.0L196.6 269.0L197.6 269.4L198.6 269.4L199.6 269.4L200.6 269.7L201.6 269.7L202.6 270.7L203.6 271.1L204.6 272.5L205.6 273.8L206.6 275.6L207.6 277.3L208.6 279.1L209.6 281.1L210.6 282.6L211.6 284.5L212.6 286.1L213.6 288.7L214.6 290.2L215.6 290.5L216.6 290.0L217.6 289.6L218.6 289.5L219.6 289.2L220.6 288.6L221.6 288.1L222.6 287.3L223.6 286.3L224.6 285.6L225.6 285.2L226.6 284.4L227.6 283.5L228.6 282.6L229.6 282.6L230.6 281.9L231.6 280.9L232.6 279.8L233.6 279.8L234.6 279.0L235.6 278.2L236.6 276.4L237.6 275.7L238.6 275.2L239.6 274.2L240.6 273.4L241.6 272.4L242.6 272.2L243.6 271.4L244.6 270.6L245.6 269.8L246.6 269.3L247.6 268.9L248.6 269.0L249.6 269.0L250.6 269.1L251.6 269.3L252.6 269.7L253.6 270.2L254.6 270.7L255.6 271.5L256.6 272.2L257.6 272.8L258.6 274.1L259.6 275.4L260.6 276.4L261.6 275.9L262.6 274.9L263.6 273.8L264.6 273.1L265.6 272.4L266.6 271.3L267.6 269.9L268.6 269.0L269.6 268.2L270.6 268.0L271.6 267.6L272.6 267.9L273.6 267.4L274.6 266.6L275.6 266.6L276.6 267.0L277.6 268.4L278.6 269.0L279.6 270.2L280.6 270.9L281.6 271.5L282.6 272.1L283.6 272.3L284.6 272.4L285.6 272.4L286.6 272.0L287.6 271.5L288.6 271.1L289.6 270.7L290.6 270.7L291.6 270.8L292.6 271.0L293.6 271.1L294.6 270.5L295.6 270.6L296.6 271.0L297.6 271.6L298.6 271.8L299.6 271.1L300.6 270.8L301.6 270.6L302.6 271.2L303.6 271.2L304.6 270.9L305.6 270.7L306.6 270.9L307.6 272.0L308.6 272.4L309.6 272.8L310.6 272.7L311.6 272.6L312.6 272.4L313.6 272.1L314.6 272.4L315.6 272.2L316.6 272.3L317.6 272.2L318.6 271.7L319.6 271.5L320.6 270.8L321.6 270.1L322.6 269.0L323.6 268.2L324.6 268.4L325.6 268.8L326.6 269.3L327.6 270.2L328.6 270.8L329.6 271.6L330.6 271.6L331.6 272.6L332.6 273.0L333.6 273.3L334.6 272.3L335.6 271.7L336.6 270.8L337.6 270.4L338.6 269.7L339.6 268.6L340.6 267.9L341.6 267.7L342.6 268.1L343.6 268.2L344.6 268.3L345.6 268.8L346.6 268.7L347.6 268.7L348.6 268.9L349.6 269.6L350.6 270.0L351.6 269.9L352.6 270.2L353.6 270.2L354.6 270.5L355.6 270.0L356.6 270.5L357.6 270.9L358.6 271.2L359.6 271.2L360.6 271.5L361.6 272.5L362.6 272.9L363.6 273.0L364.6 272.3L365.6 271.9L366.6 271.5L367.6 271.0L368.6 270.7L369.6 269.9L370.6 270.0L371.6 270.0L372.6 270.0L373.6 269.8L374.6 269.2L375.6 268.5L376.6 268.4L377.6 268.7" stroke="#ff0000"/>
<path d="M95.6 272.4L96.6 272.6L97.6 272.2L98.6 272.2L99.6 271.3L100.6 271.6L101.6 271.9L102.6 272.4L103.6 271.9L104.6 271.7L105.6 271.4L106.6 271.8L107.6 271.8L108.6 271.8L109.6 271.7L110.6 271.2L111.6 271.6L112.6 272.4L113.6 273.2L114.6 272.9L115.6 271.4L116.6 270.5L117.6 270.3L118.6 270.7L119.6 270.4L120.6 270.1L121.6 269.4L122.6 269.4L123.6 268.8L124.6 269.1L125.6 268.7L126.6 269.3L127.6 269.0L128.6 269.2L129.6 268.9L130.6 269.3L131.6 269.8L132.6 270.3L133.6 270.4L134.6 270.4L135.6 270.4L136.6 270.6L137.6 270.4L138.6 270.4L139.6 270.7L140.6 271.4L141.6 271.1L142.6 270.2L143.6 269.2L144.6 268.7L145.6 268.4L146.6 268.0L147.6 267.3L148.6 267.1L149.6 267.0L150.6 267.6L151.6 267.7L152.6 267.8L153.6 268.7L154.6 268.7L155.6 268.6L156.6 268.0L157.6 268.5L158.6 269.0L159.6 269.6L160.6 269.8L161.6 269.6L162.6 269.0L163.6 268.6L164.6 268.3L165.6 267.4L166.6 267.1L167.6 267.2L168.6 267.8L169.6 267.7L170.6 267.5L171.6 267.2L172.6 267.1L173.6 266.7L174.6 267.1L175.6 267.1L176.6 267.9L177.6 267.9L178.6 268.0L179.6 268.0L180.6 268.0L181.6 267.6L182.6 267.2L183.6 266.7L184.6 266.5L185.6 265.6L186.6 264.6L187.6 264.3L188.6 264.0L189.6 264.0L190.6 263.2L191.6 262.4L192.6 261.9L193.6 262.0L194.6 261.9L195.6 261.4L196.6 261.0L197.6 260.4L198.6 259.8L199.6 259.0L200.6 258.8L201.6 259.0L202.6 259.1L203.6 258.8L204.6 258.5L205.6 258.7L206.6 259.6L207.6 260.7L208.6 261.4L209.6 262.0L210.6 263.0L211.6 263.7L212.6 264.6L213.6 264.6L214.6 264.4L215.6 263.6L216.6 262.9L217.6 262.0L218.6 261.2L219.6 260.6L220.6 260.1L221.6 259.7L222.6 259.2L223.6 258.7L224.6 258.2L225.6 258.2L226.6 258.3L227.6 258.7L228.6 259.4L229.6 259.8L230.6 260.8L231.6 261.1L232.6 262.7L233.6 263.9L234.6 265.1L235.6 264.7L236.6 264.1L237.6 263.4L238.6 263.0L239.6 262.4L240.6 262.1L241.6 261.8L242.6 261.7L243.6 261.7L244.6 261.6L245.6 261.6L246.6 261.9L247.6 262.9L248.6 263.5L249.6 264.2L250.6 264.8L251.6 265.6L252.6 266.4L253.6 266.6L254.6 267.0L255.6 267.3L256.6 267.7L257.6 268.2L258.6 268.3L259.6 268.5L260.6 268.6L261.6 269.3L262.6 270.1L263.6 270.8L264.6 270.7L265.6 270.2L266.6 270.0L267.6 269.4L268.6 269.7L269.6 269.3L270.6 269.3L271.6 268.0L272.6 267.8L273.6 267.4L274.6 267.9L275.6 267.9L276.6 268.5L277.6 269.3L278.6 270.1L279.6 270.6L280.6 270.3L281.6 270.7L282.6 270.9L283.6 271.8L284.6 272.0L285.6 272.1L286.6 271.7L287.6 271.1L288.6 271.0L289.6 270.7L290.6 270.9L291.6 270.0L292.6 269.6L293.6 269.1L294.6 269.4L295.6 269.0L296.6 268.0L297.6 267.0L298.6 266.5L299.6 266.5L300.6 266.5L301.6 266.5L302.6 266.6L303.6 266.4L304.6 266.9L305.6 267.1L306.6 267.6L307.6 268.2L308.6 268.7L309.6 268.8L310.6 268.9L311.6 269.2L312.6 270.1L313.6 270.9L314.6 271.6L315.6 271.8L316.6 271.6L317.6 271.2L318.6 271.2L319.6 270.9L320.6 270.9L321.6 270.8L322.6 270.7L323.6 270.8L324.6 270.5L325.6 269.8L326.6 269.3L327.6 268.9L328.6 269.4L329.6 270.1L330.6 270.1L331.6 269.9L332.6 269.4L333.6 269.9L334.6 270.1L335.6 270.0L336.6 269.4L337.6 269.0L338.6 269.2L339.6 269.1L340.6 269.4L341.6 269.2L342.6 268.9L343.6 268.4L344.6 268.6L345.6 268.2L346.6 268.1L347.6 267.1L348.6 267.6L349.6 267.6L350.6 267.4L351.6 266.9L352.6 267.0L353.6 267.8L354.6 268.1L355.6 268.3L356.6 268.8L357.6 269.6L358.6 270.0L359.6 269.9L360.6 269.6L361.6 269.9L362.6 270.7L363.6 271.2L364.6 271.3L365.6 271.0L366.6 271.0L367.6 270.8L368.6 271.2L369.6 271.2L370.6 271.6L371.6 270.8L372.6 269.8L373.6 269.1L374.6 268.1L375.6 267.9L376.6 266.3L377.6 265.6" stroke="#0000ff"/>
<path d="M95.7 329.9L96.7 329.6L97.7 328.7L98.7 328.0L99.7 326.7L100.7 325.5L101.7 324.4L102.7 323.9L103.7 324.2L104.7 324.8L105.7 325.4L106.7 326.6L107.7 327.6L108.7 328.0L109.7 328.3L110.7 329.1L111.7 330.4L112.7 331.1L113.7 331.1L114.7 331.1L115.7 331.0L116.7 330.7L117.7 330.1L118.7 329.2L119.7 328.6L120.7 327.6L121.7 326.9L122.7 326.6L123.7 326.6L124.7 326.2L125.7 325.4L126.7 325.1L127.7 324.7L128.7 324.5L129.7 324.3L130.7 324.5L131.7 325.3L132.7 326.3L133.7 327.0L134.7 327.8L135.7 327.9L136.7 328.7L137.7 329.2L138.7 330.6L139.7 331.5L140.7 331.8L141.7 331.2L142.7 331.3L143.7 331.0L144.7 330.2L145.7 329.7L146.7 329.4L147.7 329.6L148.7 329.4L149.7 329.4L150.7 329.2L151.7 328.9L152.7 328.8L153.7 329.0L154.7 328.3L155.7 328.3L156.7 328.1L157.7 327.9L158.7 327.3L159.7 327.3L160.7 328.4L161.7 330.0L162.7 331.5L163.7 333.5L164.7 334.8L165.7 337.5L166.7 340.0L167.7 343.3L168.7 346.0L169.7 348.5L170.7 351.0L171.7 352.9L172.7 353.2L173.7 352.6L174.7 350.5L175.7 349.5L176.7 347.2L177.7 345.1L178.7 342.1L179.7 339.8L180.7 337.3L181.7 334.5L182.7 332.0L183.7 329.7L184.7 328.1L185.7 327.0L186.7 326.3L187.7 326.4L188.7 326.2L189.7 326.4L190.7 326.6L191.7 327.4L192.7 328.2L193.7 328.8L194.7 329.4L195.7 330.5L196.7 331.3L197.7 331.8L198.7 331.2L199.7 330.4L200.7 329.7L201.7 329.3L202.7 328.9L203.7 328.3L204.7 328.4L205.7 328.0L206.7 327.8L207.7 326.8L208.7 326.2L209.7 325.1L210.7 324.3L211.7 323.7L212.7 323.7L213.7 324.4L214.7 326.0L215.7 327.0L216.7 327.9L217.7 328.1L218.7 328.9L219.7 329.1L220.7 329.3L221.7 329.3L222.7 329.9L223.7 330.7L224.7 330.9L225.7 330.5L226.7 330.3L227.7 330.6L228.7 331.1L229.7 331.2L230.7 331.4L231.7 331.9L232.7 331.9L233.7 332.3L234.7 331.7L235.7 331.6L236.7 330.2L237.7 329.2L238.7 328.1L239.7 326.7L240.7 325.2L241.7 324.3L242.7 323.7L243.7 323.6L244.7 323.1L245.7 322.9L246.7 322.6L247.7 323.4L248.7 324.4L249.7 326.4L250.7 327.5L251.7 328.8L252.7 329.6L253.7 330.6L254.7 331.4L255.7 332.1L256.7 332.0L257.7 332.0L258.7 331.3L259.7 330.9L260.7 330.4L261.7 330.1L262.7 329.7L263.7 328.9L264.7 328.3L265.7 327.3L266.7 326.4L267.7 325.3L268.7 324.3L269.7 323.7L270.7 323.4L271.7 323.7L272.7 323.7L273.7 323.9L274.7 323.9L275.7 324.4L276.7 325.2L277.7 325.8L278.7 326.5L279.7 327.0L280.7 328.6L281.7 329.8L282.7 331.6L283.7 332.4L284.7 333.3L285.7 333.3L286.7 332.6L287.7 332.3L288.7 331.5L289.7 330.8L290.7 330.1L291.7 329.0L292.7 328.5L293.7 327.5L294.7 326.9L295.7 325.9L296.7 324.8L297.7 324.0L298.7 323.7L299.7 323.7L300.7 324.3L301.7 324.4L302.7 325.1L303.7 325.2L304.7 325.9L305.7 326.1L306.7 326.0L307.7 325.6L308.7 325.0L309.7 324.6L310.7 324.1L311.7 323.7L312.7 323.3L313.7 323.3L314.7 323.7L315.7 324.6L316.7 325.5L317.7 326.6L318.7 327.8L319.7 329.1L320.7 330.3L321.7 331.5L322.7 332.3L323.7 333.2L324.7 332.9L325.7 332.3L326.7 330.6L327.7 329.5L328.7 328.5L329.7 327.1L330.7 325.7L331.7 324.9L332.7 324.9L333.7 325.4L334.7 325.5L335.7 325.5L336.7 325.2L337.7 325.0L338.7 325.4L339.7 325.7L340.7 325.8L341.7 325.7L342.7 326.0L343.7 326.1L344.7 326.2L345.7 326.0L346.7 325.7L347.7 326.3L348.7 327.0L349.7 327.8L350.7 327.9L351.7 327.7L352.7 327.2L353.7 326.7L354.7 326.3L355.7 326.6L356.7 326.9L357.7 326.7L358.7 326.0L359.7 325.1L360.7 324.4L361.7 323.6L362.7 323.6L363.7 323.6L364.7 323.8L365.7 323.6L366.7 324.1L367.7 324.3L368.7 324.9L369.7 325.1L370.7 325.2L371.7 325.7L372.7 326.9L373.7 328.6L374.7 330.6L375.7 332.8L376.7 334.6" stroke="#ff0000"/>
<path d="M95.7 325.9L96.7 326.9L97.7 327.3L98.7 328.2L99.7 328.5L100.7 329.3L101.7 329.1L102.7 328.2L103.7 327.2L104.7 325.3L105.7 324.4L106.7 323.2L107.7 322.6L108.7 321.2L109.7 320.0L110.7 318.9L111.7 318.5L112.7 318.8L113.7 319.3L114.7 320.1L115.7 320.8L116.7 322.1L117.7 323.0L118.7 324.1L119.7 325.2L120.7 326.8L121.7 328.3L122.7 329.5L123.7 329.7L124.7 329.0L125.7 328.0L126.7 327.1L127.7 327.0L128.7 326.7L129.7 327.2L130.7 327.3L131.7 327.7L132.7 327.6L133.7 328.2L134.7 328.1L135.7 327.8L136.7 327.0L137.7 326.5L138.7 326.3L139.7 325.8L140.7 325.5L141.7 325.5L142.7 325.6L143.7 325.0L144.7 324.2L145.7 323.5L146.7 322.7L147.7 322.4L148.7 321.5L149.7 321.1L150.7 319.8L151.7 318.9L152.7 317.5L153.7 316.3L154.7 315.2L155.7 314.7L156.7 313.3L157.7 311.4L158.7 308.6L159.7 306.7L160.7 304.4L161.7 302.2L162.7 299.5L163.7 297.7L164.7 296.0L165.7 294.6L166.7 293.1L167.7 292.2L168.7 291.2L169.7 289.3L170.7 287.5L171.7 286.4L172.7 286.5L173.7 287.3L174.7 287.6L175.7 288.0L176.7 288.2L177.7 288.6L178.7 289.8L179.7 291.5L180.7 293.7L181.7 296.2L182.7 298.8L183.7 301.6L184.7 304.2L185.7 306.7L186.7 309.5L187.7 311.8L188.7 314.3L189.7 316.0L190.7 317.6L191.7 318.4L192.7 319.0L193.7 319.7L194.7 320.0L195.7 319.8L196.7 319.9L197.7 319.7L198.7 319.6L199.7 319.1L200.7 319.0L201.7 319.4L202.7 321.0L203.7 322.9L204.7 325.1L205.7 327.1L206.7 329.0L207.7 330.8L208.7 332.3L209.7 332.9L210.7 332.7L211.7 331.7L212.7 330.9L213.7 330.4L214.7 329.8L215.7 329.3L216.7 329.1L217.7 329.6L218.7 329.3L219.7 329.2L220.7 328.8L221.7 329.1L222.7 327.9L223.7 326.6L224.7 324.5L225.7 323.6L226.7 322.2L227.7 321.1L228.7 319.6L229.7 318.7L230.7 318.5L231.7 318.6L232.7 318.9L233.7 318.9L234.7 319.0L235.7 319.1L236.7 319.8L237.7 320.2L238.7 320.4L239.7 320.6L240.7 320.9L241.7 321.7L242.7 321.6L243.7 321.6L244.7 321.6L245.7 321.9L246.7 322.3L247.7 322.0L248.7 322.5L249.7 322.3L250.7 322.8L251.7 322.8L252.7 323.6L253.7 323.8L254.7 325.0L255.7 325.8L256.7 327.0L257.7 328.1L258.7 328.6L259.7 329.2L260.7 329.7L261.7 331.3L262.7 332.9L263.7 334.1L264.7 334.9L265.7 335.2L266.7 334.9L267.7 334.2L268.7 333.6L269.7 333.0L270.7 332.2L271.7 330.7L272.7 329.0L273.7 327.9L274.7 327.1L275.7 326.0L276.7 325.8L277.7 326.4L278.7 327.9L279.7 328.5L280.7 329.5L281.7 330.2L282.7 331.1L283.7 331.0L284.7 330.4L285.7 328.9L286.7 327.6L287.7 326.5L288.7 326.2L289.7 325.7L290.7 325.8L291.7 325.6L292.7 325.4L293.7 324.9L294.7 323.9L295.7 323.1L296.7 322.4L297.7 323.2L298.7 324.1L299.7 325.2L300.7 325.3L301.7 325.1L302.7 324.4L303.7 323.5L304.7 323.5L305.7 324.1L306.7 325.6L307.7 326.6L308.7 327.8L309.7 328.6L310.7 329.0L311.7 329.0L312.7 329.0L313.7 329.6L314.7 330.3L315.7 331.1L316.7 331.0L317.7 330.8L318.7 330.0L319.7 329.6L320.7 328.4L321.7 327.5L322.7 326.6L323.7 326.3L324.7 326.3L325.7 326.7L326.7 327.9L327.7 328.3L328.7 329.6L329.7 330.2L330.7 331.3L331.7 331.9L332.7 332.5L333.7 333.4L334.7 333.7L335.7 334.3L336.7 334.2L337.7 334.1L338.7 333.9L339.7 334.3L340.7 334.1L341.7 333.5L342.7 332.3L343.7 331.5L344.7 331.0L345.7 330.5L346.7 330.3L347.7 330.1L348.7 329.9L349.7 329.8L350.7 329.5L351.7 329.5L352.7 329.7L353.7 329.6L354.7 329.8L355.7 329.4L356.7 329.3L357.7 328.7L358.7 328.1L359.7 326.9L360.7 325.6L361.7 324.4L362.7 324.4L363.7 323.8L364.7 323.7L365.7 322.0L366.7 321.6L367.7 321.4L368.7 322.6L369.7 323.4L370.7 324.8L371.7 325.8L372.7 327.3L373.7 328.7L374.7 330.9L375.7 333.4L376.7 334.9" stroke="#0000ff"/>
<path d="M95.7 431.9L96.7 432.5L97.7 433.7L98.7 433.8L99.7 433.6L100.7 432.9L101.7 433.6L102.7 434.1L103.7 434.3L104.7 433.6L105.7 432.5L106.7 431.5L107.7 431.2L108.7 430.2L109.7 429.4L110.7 428.4L111.7 428.5L112.7 428.6L113.7 428.9L114.7 428.6L115.7 429.1L116.7 428.8L117.7 429.1L118.7 428.9L119.7 429.3L120.7 429.5L121.7 430.1L122.7 431.3L123.7 432.2L124.7 432.2L125.7 431.6L126.7 430.8L127.7 430.2L128.7 429.7L129.7 429.1L130.7 428.6L131.7 428.3L132.7 428.6L133.7 429.2L134.7 429.1L135.7 429.0L136.7 429.1L137.7 429.0L138.7 429.1L139.7 429.0L140.7 429.1L141.7 429.6L142.7 430.1L143.7 430.8L144.7 431.1L145.7 431.4L146.7 431.4L147.7 431.5L148.7 432.0L149.7 433.2L150.7 433.6L151.7 435.1L152.7 435.1L153.7 436.5L154.7 436.4L155.7 438.2L156.7 438.9L157.7 440.7L158.7 442.2L159.7 444.3L160.7 446.6L161.7 449.3L162.7 453.0L163.7 456.9L164.7 460.8L165.7 464.2L166.7 466.7L167.7 469.0L168.7 470.5L169.7 470.8L170.7 469.3L171.7 467.4L172.7 465.6L173.7 463.5L174.7 460.9L175.7 457.3L176.7 454.1L177.7 450.5L178.7 447.6L179.7 445.0L180.7 442.8L181.7 441.5L182.7 440.4L183.7 439.5L184.7 437.6L185.7 436.5L186.7 435.1L187.7 434.7L188.7 432.9L189.7 431.3L190.7 429.9L191.7 429.6L192.7 428.9L193.7 428.4L194.7 428.1L195.7 428.0L196.7 428.4L197.7 428.9L198.7 429.9L199.7 430.8L200.7 432.0L201.7 433.6L202.7 435.0L203.7 435.7L204.7 436.4L205.7 437.3L206.7 437.7L207.7 437.8L208.7 437.8L209.7 437.5L210.7 437.1L211.7 437.0L212.7 436.9L213.7 437.3L214.7 437.2L215.7 437.7L216.7 437.7L217.7 437.2L218.7 436.3L219.7 435.3L220.7 435.0L221.7 434.7L222.7 433.8L223.7 432.5L224.7 431.7L225.7 430.8L226.7 430.6L227.7 430.5L228.7 431.4L229.7 432.5L230.7 433.9L231.7 435.4L232.7 436.1L233.7 436.0L234.7 435.0L235.7 434.1L236.7 432.4L237.7 431.5L238.7 430.1L239.7 429.5L240.7 428.6L241.7 429.3L242.7 430.4L243.7 431.6L244.7 433.1L245.7 434.8L246.7 436.2L247.7 437.6L248.7 438.5L249.7 439.9L250.7 440.7L251.7 441.5L252.7 440.6L253.7 439.9L254.7 438.5L255.7 437.8L256.7 437.0L257.7 436.1L258.7 436.1L259.7 436.1L260.7 436.9L261.7 436.6L262.7 436.7L263.7 436.7L264.7 437.7L265.7 438.4L266.7 438.7L267.7 439.4L268.7 440.0L269.7 441.2L270.7 441.4L271.7 442.0L272.7 442.3L273.7 442.2L274.7 441.2L275.7 439.9L276.7 439.1L277.7 439.1L278.7 440.0L279.7 440.6L280.7 441.4L281.7 441.9L282.7 442.9L283.7 444.2L284.7 445.6L285.7 446.9L286.7 448.3L287.7 449.3L288.7 450.5L289.7 451.8L290.7 453.1L291.7 453.3L292.7 452.7L293.7 452.0L294.7 452.0L295.7 451.7L296.7 451.0L297.7 450.0L298.7 449.2L299.7 448.7L300.7 448.7L301.7 448.3L302.7 447.9L303.7 447.0L304.7 446.5L305.7 446.1L306.7 446.5L307.7 446.8L308.7 446.7L309.7 446.8L310.7 447.0L311.7 446.8L312.7 445.9L313.7 445.3L314.7 444.9L315.7 444.3L316.7 443.1L317.7 441.9L318.7 441.1L319.7 440.2L320.7 439.5L321.7 438.4L322.7 437.9L323.7 437.5L324.7 437.7L325.7 437.8L326.7 437.7L327.7 438.2L328.7 439.1L329.7 441.3L330.7 443.3L331.7 445.0L332.7 445.6L333.7 445.9L334.7 445.5L335.7 445.0L336.7 443.6L337.7 443.0L338.7 441.9L339.7 441.8L340.7 440.8L341.7 439.6L342.7 437.7L343.7 436.4L344.7 434.2L345.7 433.4L346.7 432.6L347.7 433.7L348.7 434.4L349.7 435.1L350.7 436.3L351.7 436.8L352.7 436.1L353.7 435.0L354.7 434.7L355.7 434.6L356.7 434.7L357.7 434.7L358.7 435.5L359.7 436.4L360.7 437.4L361.7 438.0L362.7 438.2L363.7 437.5L364.7 437.1L365.7 436.3L366.7 436.2L367.7 436.1L368.7 436.8L369.7 437.9L370.7 439.1L371.7 440.7L372.7 442.1L373.7 443.7L374.7 446.3L375.7 448.8L376.7 450.5" stroke="#ff0000"/>
<path d="M95.7 426.3L96.7 426.0L97.7 425.7L98.7 424.7L99.7 424.1L100.7 423.1L101.7 422.2L102.7 420.6L103.7 419.5L104.7 418.7L105.7 417.7L106.7 416.6L107.7 416.7L108.7 417.0L109.7 418.3L110.7 419.1L111.7 419.7L112.7 420.1L113.7 419.9L114.7 420.9L115.7 421.2L116.7 421.2L117.7 420.7L118.7 420.4L119.7 420.8L120.7 421.1L121.7 420.6L122.7 420.4L123.7 420.7L124.7 420.9L125.7 420.8L126.7 420.5L127.7 421.1L128.7 422.5L129.7 423.5L130.7 425.0L131.7 425.8L132.7 426.6L133.7 426.1L134.7 425.7L135.7 424.6L136.7 424.7L137.7 424.4L138.7 424.7L139.7 424.1L140.7 423.7L141.7 423.4L142.7 423.0L143.7 422.7L144.7 421.9L145.7 421.5L146.7 421.2L147.7 420.7L148.7 420.2L149.7 419.4L150.7 418.7L151.7 417.3L152.7 415.2L153.7 412.7L154.7 410.4L155.7 407.8L156.7 405.3L157.7 402.8L158.7 400.2L159.7 397.6L160.7 394.1L161.7 391.0L162.7 388.5L163.7 385.9L164.7 383.0L165.7 379.7L166.7 376.9L167.7 374.7L168.7 372.9L169.7 371.7L170.7 369.7L171.7 369.0L172.7 368.2L173.7 369.0L174.7 368.7L175.7 369.3L176.7 370.2L177.7 371.6L178.7 372.3L179.7 373.1L180.7 374.3L181.7 376.9L182.7 379.1L183.7 381.6L184.7 383.2L185.7 385.7L186.7 387.6L187.7 389.4L188.7 390.6L189.7 392.4L190.7 394.3L191.7 396.4L192.7 398.1L193.7 399.9L194.7 401.9L195.7 403.4L196.7 405.1L197.7 406.6L198.7 408.6L199.7 411.2L200.7 413.6L201.7 415.7L202.7 417.1L203.7 419.0L204.7 420.4L205.7 420.9L206.7 420.1L207.7 418.8L208.7 417.9L209.7 417.0L210.7 416.3L211.7 415.5L212.7 415.0L213.7 414.0L214.7 413.0L215.7 412.5L216.7 411.8L217.7 411.3L218.7 410.3L219.7 410.1L220.7 409.7L221.7 409.4L222.7 408.4L223.7 408.1L224.7 408.3L225.7 409.9L226.7 411.5L227.7 412.3L228.7 412.5L229.7 412.1L230.7 411.9L231.7 411.2L232.7 411.1L233.7 411.8L234.7 413.9L235.7 416.2L236.7 418.3L237.7 419.8L238.7 421.0L239.7 422.3L240.7 423.5L241.7 424.6L242.7 425.9L243.7 427.0L244.7 428.9L245.7 429.8L246.7 430.9L247.7 430.6L248.7 430.3L249.7 429.1L250.7 428.0L251.7 427.2L252.7 427.2L253.7 427.8L254.7 429.0L255.7 430.1L256.7 431.1L257.7 432.1L258.7 432.7L259.7 433.3L260.7 432.9L261.7 432.5L262.7 431.3L263.7 429.1L264.7 425.3L265.7 421.2L266.7 417.4L267.7 414.6L268.7 412.3L269.7 411.2L270.7 410.4L271.7 410.1L272.7 409.8L273.7 409.3L274.7 408.7L275.7 408.4L276.7 409.2L277.7 411.4L278.7 413.8L279.7 415.8L280.7 416.4L281.7 416.4L282.7 416.0L283.7 415.5L284.7 415.5L285.7 416.2L286.7 417.1L287.7 417.9L288.7 417.5L289.7 417.8L290.7 417.1L291.7 417.1L292.7 417.4L293.7 419.2L294.7 421.0L295.7 423.0L296.7 424.5L297.7 426.2L298.7 427.2L299.7 427.7L300.7 427.3L301.7 426.4L302.7 426.4L303.7 427.5L304.7 429.6L305.7 431.1L306.7 430.4L307.7 428.4L308.7 424.8L309.7 423.1L310.7 421.7L311.7 422.0L312.7 422.1L313.7 422.6L314.7 422.1L315.7 420.4L316.7 418.1L317.7 415.7L318.7 413.6L319.7 411.2L320.7 409.6L321.7 409.0L322.7 409.2L323.7 409.9L324.7 410.3L325.7 410.8L326.7 413.0L327.7 415.1L328.7 417.4L329.7 418.8L330.7 420.5L331.7 421.9L332.7 422.5L333.7 422.7L334.7 423.5L335.7 424.7L336.7 425.9L337.7 426.0L338.7 426.6L339.7 427.6L340.7 429.3L341.7 431.0L342.7 432.5L343.7 434.0L344.7 436.2L345.7 438.6L346.7 441.4L347.7 442.6L348.7 442.3L349.7 440.8L350.7 438.9L351.7 436.6L352.7 434.3L353.7 431.7L354.7 429.8L355.7 428.3L356.7 427.6L357.7 427.0L358.7 426.6L359.7 426.6L360.7 426.5L361.7 426.0L362.7 425.5L363.7 425.3L364.7 425.9L365.7 426.2L366.7 427.2L367.7 428.1L368.7 429.6L369.7 430.3L370.7 431.9L371.7 433.7L372.7 435.5L373.7 437.1L374.7 437.8L375.7 439.4L376.7 440.0" stroke="#0000ff"/>
</g>
<g clip-path="url(#c3)" fill="none" stroke-width="3.2" stroke-linejoin="round">
<path d="M416.3 108.6L417.9 111.1L419.5 110.8L421.1 107.5L422.7 107.9L424.3 107.5L425.9 109.5L427.5 108.3L429.1 109.9L430.7 104.9L432.3 111.4L433.9 108.2L435.5 109.7L437.1 108.2L438.7 107.7L440.3 109.3L441.9 110.0L443.5 108.0L445.1 108.1L446.7 109.7L448.3 106.7L449.9 105.5L451.5 109.1L453.1 107.1L454.7 104.7L456.3 106.8L457.9 107.4L459.5 106.1L461.1 105.5L462.7 108.4L464.3 110.0L465.9 107.9L467.5 106.9L469.1 109.0L470.7 109.6L472.3 107.7L473.9 109.3L475.5 110.2L477.1 107.9L478.7 106.7L480.3 108.9L481.9 108.7L483.5 110.3L485.1 105.8L486.7 107.0L488.3 106.6L489.9 104.9L491.5 108.4L493.1 109.2L494.7 106.8L496.3 110.8L497.9 109.7L499.5 109.4L501.1 108.9L502.7 110.0L504.3 105.6L505.9 109.3L507.5 109.3L509.1 104.8L510.7 108.8L512.3 107.6L513.9 109.6L515.5 107.3L517.1 108.1L518.7 108.7L520.3 106.4L521.9 109.2L523.5 107.9L525.1 109.0L526.7 107.1L528.3 110.1L529.9 109.2L531.5 107.7L533.1 109.2L534.7 110.4L536.3 111.4L537.9 105.0L539.5 109.7L541.1 108.3L542.7 106.3L544.3 103.6L545.9 107.0L547.5 100.7L549.1 101.1L550.7 99.5L552.3 97.4L553.9 103.2L555.5 102.3L557.1 106.0L558.7 109.2L560.3 110.8L561.9 103.6L563.5 105.8L565.1 108.2L566.7 109.8L568.3 107.6L569.9 105.3L571.5 107.3L573.1 106.6L574.7 106.2L576.3 105.2L577.9 107.3L579.5 107.1L581.1 106.3L582.7 106.0L584.3 104.0L585.9 105.4L587.5 108.6L589.1 105.9L590.7 103.5L592.3 108.7L593.9 107.2L595.5 110.1L597.1 106.2L598.7 105.2L600.3 103.2L601.9 108.5L603.5 110.9L605.1 104.4L606.7 104.7L608.3 107.1L609.9 104.4L611.5 105.4L613.1 105.3L614.7 106.3L616.3 108.0L617.9 106.0L619.5 107.6L621.1 105.1L622.7 106.5L624.3 101.8L625.9 103.1L627.5 107.4L629.1 104.7L630.7 106.9L632.3 106.9L633.9 108.3L635.5 107.4L637.1 107.7L638.7 105.6L640.3 104.5L641.9 104.4L643.5 104.9L645.1 103.6L646.7 104.7L648.3 105.6L649.9 106.2L651.5 105.1L653.1 102.1L654.7 105.6L656.3 106.1L657.9 107.8L659.5 106.8L661.1 104.5L662.7 104.3L664.3 109.5L665.9 107.1L667.5 109.1L669.1 109.7L670.7 104.1L672.3 106.4L673.9 106.5L675.5 106.7L677.1 106.6L678.7 106.0L680.3 105.9L681.9 102.7L683.5 105.3L685.1 104.1L686.7 105.8L688.3 104.7L689.9 106.7L691.5 107.1L693.1 106.1L694.7 106.1L696.3 105.7L697.9 104.7" stroke="#ff0000"/>
<path d="M416.3 109.0L417.9 111.4L419.5 110.7L421.1 110.7L422.7 112.7L424.3 106.2L425.9 107.6L427.5 106.0L429.1 108.8L430.7 111.3L432.3 108.9L433.9 110.1L435.5 104.6L437.1 109.3L438.7 106.9L440.3 113.1L441.9 111.0L443.5 111.2L445.1 110.4L446.7 114.2L448.3 116.6L449.9 112.4L451.5 109.6L453.1 107.2L454.7 102.3L456.3 101.7L457.9 102.4L459.5 101.5L461.1 105.0L462.7 99.6L464.3 105.2L465.9 101.9L467.5 102.2L469.1 100.4L470.7 103.2L472.3 103.0L473.9 104.1L475.5 102.5L477.1 104.0L478.7 108.0L480.3 104.8L481.9 102.6L483.5 106.1L485.1 103.8L486.7 106.7L488.3 108.0L489.9 107.0L491.5 103.6L493.1 107.2L494.7 109.3L496.3 107.1L497.9 109.0L499.5 110.3L501.1 106.7L502.7 110.8L504.3 111.7L505.9 110.5L507.5 110.7L509.1 110.5L510.7 113.2L512.3 108.4L513.9 108.0L515.5 109.4L517.1 105.9L518.7 104.4L520.3 106.0L521.9 108.9L523.5 109.1L525.1 104.4L526.7 102.0L528.3 104.7L529.9 99.0L531.5 90.0L533.1 84.7L534.7 89.1L536.3 98.4L537.9 109.4L539.5 105.4L541.1 105.2L542.7 108.5L544.3 109.4L545.9 109.5L547.5 109.2L549.1 109.6L550.7 109.7L552.3 103.7L553.9 106.0L555.5 108.8L557.1 109.1L558.7 104.2L560.3 110.3L561.9 106.6L563.5 107.0L565.1 108.2L566.7 109.3L568.3 104.2L569.9 109.8L571.5 107.6L573.1 105.7L574.7 106.8L576.3 100.8L577.9 105.4L579.5 107.9L581.1 105.2L582.7 106.3L584.3 106.8L585.9 107.4L587.5 110.3L589.1 107.1L590.7 106.4L592.3 108.7L593.9 113.3L595.5 106.0L597.1 108.6L598.7 102.3L600.3 111.0L601.9 108.9L603.5 110.8L605.1 106.6L606.7 103.6L608.3 109.3L609.9 108.8L611.5 103.9L613.1 102.0L614.7 107.7L616.3 105.8L617.9 114.0L619.5 104.3L621.1 104.5L622.7 105.7L624.3 100.9L625.9 103.2L627.5 110.7L629.1 105.3L630.7 103.8L632.3 101.7L633.9 107.2L635.5 107.4L637.1 106.1L638.7 104.1L640.3 106.1L641.9 106.3L643.5 103.0L645.1 106.6L646.7 100.1L648.3 95.6L649.9 93.5L651.5 100.0L653.1 102.5L654.7 107.0L656.3 109.2L657.9 107.4L659.5 106.7L661.1 108.6L662.7 107.3L664.3 102.7L665.9 105.5L667.5 110.0L669.1 102.8L670.7 106.4L672.3 105.0L673.9 103.5L675.5 103.2L677.1 106.6L678.7 107.2L680.3 107.2L681.9 102.0L683.5 105.5L685.1 107.4L686.7 109.2L688.3 108.4L689.9 108.9L691.5 109.7L693.1 108.9L694.7 104.0L696.3 106.6L697.9 104.4" stroke="#0000ff"/>
<path d="M416.7 167.7L418.3 165.8L419.9 170.5L421.5 168.8L423.1 170.3L424.7 167.9L426.3 171.3L427.9 167.8L429.5 165.9L431.1 170.6L432.7 166.3L434.3 166.3L435.9 173.1L437.5 166.8L439.1 169.7L440.7 166.5L442.3 168.0L443.9 169.1L445.5 168.1L447.1 171.4L448.7 165.1L450.3 168.7L451.9 166.5L453.5 169.2L455.1 168.4L456.7 167.2L458.3 165.0L459.9 167.8L461.5 164.4L463.1 165.5L464.7 171.0L466.3 168.2L467.9 164.6L469.5 165.9L471.1 164.2L472.7 167.3L474.3 166.1L475.9 166.8L477.5 168.3L479.1 168.9L480.7 164.4L482.3 166.5L483.9 168.9L485.5 167.4L487.1 166.3L488.7 165.8L490.3 164.1L491.9 165.8L493.5 165.2L495.1 169.6L496.7 162.8L498.3 167.4L499.9 164.2L501.5 166.0L503.1 166.7L504.7 169.5L506.3 166.1L507.9 166.2L509.5 168.1L511.1 168.8L512.7 168.6L514.3 166.5L515.9 164.3L517.5 164.4L519.1 164.9L520.7 163.9L522.3 164.2L523.9 169.0L525.5 165.9L527.1 164.5L528.7 166.6L530.3 163.8L531.9 167.6L533.5 163.8L535.1 167.4L536.7 164.7L538.3 166.9L539.9 168.9L541.5 166.4L543.1 162.3L544.7 165.0L546.3 159.7L547.9 164.1L549.5 162.5L551.1 160.2L552.7 157.5L554.3 160.3L555.9 158.2L557.5 157.8L559.1 154.7L560.7 160.1L562.3 158.5L563.9 160.3L565.5 162.3L567.1 159.8L568.7 160.6L570.3 154.6L571.9 146.5L573.5 147.2L575.1 151.1L576.7 153.7L578.3 154.2L579.9 150.6L581.5 152.9L583.1 146.2L584.7 143.6L586.3 148.1L587.9 148.8L589.5 145.5L591.1 148.8L592.7 153.7L594.3 153.4L595.9 156.2L597.5 158.6L599.1 152.5L600.7 154.7L602.3 151.9L603.9 152.6L605.5 156.4L607.1 158.9L608.7 160.4L610.3 160.3L611.9 161.5L613.5 162.1L615.1 161.9L616.7 164.3L618.3 165.1L619.9 158.1L621.5 161.8L623.1 160.2L624.7 160.0L626.3 160.8L627.9 162.6L629.5 164.0L631.1 169.2L632.7 165.1L634.3 162.0L635.9 162.9L637.5 159.6L639.1 159.1L640.7 163.5L642.3 164.8L643.9 171.1L645.5 166.2L647.1 167.1L648.7 164.7L650.3 164.2L651.9 161.3L653.5 158.7L655.1 157.5L656.7 163.7L658.3 164.4L659.9 163.0L661.5 167.0L663.1 168.3L664.7 170.3L666.3 168.4L667.9 171.2L669.5 171.7L671.1 177.1L672.7 174.4L674.3 173.3L675.9 172.0L677.5 172.5L679.1 174.5L680.7 170.8L682.3 173.5L683.9 171.2L685.5 170.0L687.1 169.5L688.7 174.8L690.3 170.6L691.9 170.9L693.5 169.4L695.1 175.2L696.7 169.9L698.3 170.3" stroke="#ff0000"/>
<path d="M416.7 169.8L418.3 171.3L419.9 172.9L421.5 168.2L423.1 166.1L424.7 170.2L426.3 166.7L427.9 168.4L429.5 166.8L431.1 171.8L432.7 167.9L434.3 171.2L435.9 169.9L437.5 168.2L439.1 168.0L440.7 169.9L442.3 168.2L443.9 170.5L445.5 168.6L447.1 168.1L448.7 169.6L450.3 173.2L451.9 166.5L453.5 170.4L455.1 167.4L456.7 168.1L458.3 174.2L459.9 170.7L461.5 167.2L463.1 163.8L464.7 170.6L466.3 170.4L467.9 169.6L469.5 169.2L471.1 167.2L472.7 167.0L474.3 167.8L475.9 165.8L477.5 166.2L479.1 170.2L480.7 167.2L482.3 169.0L483.9 168.8L485.5 166.0L487.1 170.0L488.7 164.8L490.3 167.0L491.9 170.3L493.5 164.4L495.1 170.4L496.7 163.6L498.3 170.4L499.9 169.1L501.5 167.4L503.1 165.1L504.7 168.8L506.3 167.4L507.9 166.7L509.5 166.6L511.1 167.1L512.7 164.8L514.3 167.2L515.9 166.4L517.5 167.5L519.1 167.4L520.7 164.3L522.3 169.7L523.9 163.4L525.5 165.1L527.1 163.6L528.7 165.7L530.3 162.8L531.9 162.8L533.5 167.8L535.1 165.1L536.7 167.9L538.3 168.1L539.9 165.2L541.5 167.2L543.1 164.8L544.7 162.7L546.3 166.1L547.9 167.1L549.5 170.6L551.1 169.9L552.7 172.4L554.3 165.6L555.9 172.3L557.5 175.3L559.1 170.4L560.7 170.8L562.3 168.3L563.9 175.3L565.5 172.3L567.1 173.7L568.7 172.8L570.3 174.0L571.9 171.3L573.5 169.1L575.1 164.0L576.7 161.6L578.3 163.3L579.9 166.3L581.5 165.5L583.1 169.2L584.7 160.3L586.3 157.7L587.9 163.5L589.5 172.5L591.1 172.6L592.7 160.2L594.3 162.7L595.9 161.3L597.5 168.1L599.1 165.4L600.7 165.5L602.3 172.5L603.9 173.2L605.5 173.2L607.1 175.1L608.7 171.8L610.3 176.1L611.9 168.7L613.5 167.6L615.1 163.0L616.7 169.6L618.3 175.2L619.9 179.7L621.5 177.4L623.1 173.3L624.7 170.7L626.3 172.2L627.9 171.5L629.5 172.9L631.1 172.5L632.7 169.8L634.3 172.0L635.9 179.9L637.5 175.9L639.1 182.1L640.7 176.3L642.3 178.0L643.9 174.8L645.5 172.7L647.1 168.9L648.7 170.9L650.3 166.6L651.9 171.8L653.5 170.3L655.1 172.1L656.7 175.5L658.3 173.9L659.9 169.9L661.5 170.0L663.1 167.0L664.7 166.2L666.3 163.8L667.9 161.4L669.5 159.6L671.1 158.3L672.7 158.7L674.3 161.7L675.9 161.4L677.5 158.3L679.1 165.5L680.7 167.2L682.3 169.0L683.9 166.7L685.5 158.9L687.1 161.3L688.7 157.0L690.3 160.4L691.9 164.1L693.5 158.8L695.1 163.3L696.7 163.5L698.3 167.0" stroke="#0000ff"/>
<path d="M416.7 226.7L418.3 230.2L419.9 225.8L421.5 227.4L423.1 226.7L424.7 226.1L426.3 230.8L427.9 225.5L429.5 231.1L431.1 232.7L432.7 233.7L434.3 238.2L435.9 241.4L437.5 242.4L439.1 243.0L440.7 232.1L442.3 226.4L443.9 227.3L445.5 222.3L447.1 225.3L448.7 225.3L450.3 225.2L451.9 221.9L453.5 226.1L455.1 228.0L456.7 226.1L458.3 228.1L459.9 226.3L461.5 220.6L463.1 223.4L464.7 221.6L466.3 221.7L467.9 220.8L469.5 220.4L471.1 222.8L472.7 222.2L474.3 223.6L475.9 226.3L477.5 228.3L479.1 225.2L480.7 225.3L482.3 226.5L483.9 227.5L485.5 225.1L487.1 224.7L488.7 219.3L490.3 222.3L491.9 219.6L493.5 223.6L495.1 221.1L496.7 222.5L498.3 222.8L499.9 222.6L501.5 224.0L503.1 224.9L504.7 222.5L506.3 222.6L507.9 223.8L509.5 222.9L511.1 224.2L512.7 220.5L514.3 223.7L515.9 223.4L517.5 225.0L519.1 220.3L520.7 221.5L522.3 220.6L523.9 220.4L525.5 219.4L527.1 220.8L528.7 220.9L530.3 222.7L531.9 217.9L533.5 221.5L535.1 215.7L536.7 216.1L538.3 215.4L539.9 211.3L541.5 212.8L543.1 211.9L544.7 206.4L546.3 208.3L547.9 204.9L549.5 206.6L551.1 205.2L552.7 207.3L554.3 209.0L555.9 207.6L557.5 207.1L559.1 206.5L560.7 201.7L562.3 202.4L563.9 198.6L565.5 195.1L567.1 194.9L568.7 196.4L570.3 197.3L571.9 199.1L573.5 202.4L575.1 200.2L576.7 200.5L578.3 202.1L579.9 203.8L581.5 203.5L583.1 201.0L584.7 197.8L586.3 196.3L587.9 191.2L589.5 200.7L591.1 198.3L592.7 206.7L594.3 206.8L595.9 208.5L597.5 210.6L599.1 211.9L600.7 214.2L602.3 220.0L603.9 218.4L605.5 222.9L607.1 217.1L608.7 222.5L610.3 223.3L611.9 222.7L613.5 227.9L615.1 226.1L616.7 226.9L618.3 229.6L619.9 222.6L621.5 222.7L623.1 220.4L624.7 219.6L626.3 223.9L627.9 226.7L629.5 226.8L631.1 225.4L632.7 223.6L634.3 223.8L635.9 224.7L637.5 222.0L639.1 221.1L640.7 220.7L642.3 223.9L643.9 222.8L645.5 223.7L647.1 226.2L648.7 221.9L650.3 216.3L651.9 217.5L653.5 218.4L655.1 218.1L656.7 215.9L658.3 220.5L659.9 221.3L661.5 219.6L663.1 221.7L664.7 222.8L666.3 223.8L667.9 221.5L669.5 219.9L671.1 221.8L672.7 222.6L674.3 225.2L675.9 222.9L677.5 224.0L679.1 226.0L680.7 226.5L682.3 224.1L683.9 224.2L685.5 225.8L687.1 221.2L688.7 219.8L690.3 217.5L691.9 216.2L693.5 219.0L695.1 223.3L696.7 218.8L698.3 223.7" stroke="#ff0000"/>
<path d="M416.7 226.1L418.3 223.4L419.9 218.6L421.5 222.8L423.1 222.3L424.7 225.7L426.3 232.0L427.9 235.5L429.5 228.9L431.1 223.3L432.7 229.8L434.3 237.6L435.9 236.1L437.5 227.9L439.1 220.2L440.7 228.3L442.3 232.5L443.9 239.8L445.5 241.9L447.1 228.9L448.7 216.9L450.3 211.3L451.9 215.9L453.5 224.9L455.1 221.6L456.7 223.1L458.3 222.6L459.9 223.2L461.5 227.0L463.1 223.3L464.7 222.8L466.3 218.9L467.9 221.5L469.5 224.9L471.1 220.7L472.7 226.4L474.3 225.3L475.9 223.6L477.5 223.6L479.1 222.3L480.7 223.7L482.3 225.1L483.9 225.9L485.5 218.1L487.1 229.5L488.7 219.8L490.3 224.7L491.9 221.6L493.5 223.1L495.1 226.8L496.7 230.3L498.3 229.8L499.9 222.6L501.5 218.9L503.1 220.7L504.7 228.0L506.3 227.1L507.9 226.0L509.5 224.6L511.1 226.0L512.7 225.4L514.3 223.4L515.9 219.2L517.5 230.0L519.1 225.3L520.7 226.2L522.3 225.4L523.9 224.8L525.5 222.6L527.1 226.1L528.7 227.1L530.3 224.4L531.9 224.3L533.5 231.6L535.1 230.5L536.7 231.2L538.3 235.1L539.9 234.2L541.5 231.2L543.1 230.7L544.7 229.0L546.3 225.6L547.9 226.4L549.5 224.9L551.1 231.0L552.7 232.9L554.3 237.4L555.9 233.6L557.5 232.7L559.1 227.8L560.7 229.7L562.3 236.1L563.9 240.8L565.5 240.9L567.1 244.0L568.7 236.5L570.3 233.8L571.9 233.8L573.5 232.9L575.1 234.4L576.7 238.2L578.3 240.8L579.9 240.1L581.5 237.7L583.1 243.9L584.7 242.7L586.3 249.8L587.9 246.5L589.5 242.4L591.1 246.3L592.7 245.0L594.3 246.2L595.9 247.8L597.5 246.6L599.1 249.7L600.7 251.3L602.3 253.1L603.9 256.4L605.5 255.2L607.1 257.8L608.7 261.2L610.3 259.1L611.9 259.2L613.5 255.9L615.1 253.5L616.7 250.7L618.3 247.6L619.9 245.2L621.5 243.7L623.1 243.6L624.7 243.5L626.3 245.9L627.9 241.2L629.5 233.1L631.1 230.6L632.7 227.7L634.3 225.2L635.9 231.1L637.5 230.7L639.1 229.3L640.7 225.6L642.3 223.1L643.9 228.0L645.5 229.9L647.1 232.6L648.7 230.0L650.3 231.2L651.9 228.3L653.5 226.0L655.1 224.1L656.7 223.8L658.3 222.6L659.9 227.7L661.5 229.2L663.1 231.2L664.7 228.0L666.3 229.2L667.9 229.5L669.5 227.1L671.1 226.9L672.7 223.9L674.3 225.9L675.9 227.7L677.5 226.6L679.1 226.9L680.7 226.4L682.3 226.5L683.9 230.6L685.5 225.6L687.1 222.6L688.7 223.3L690.3 220.0L691.9 224.1L693.5 228.7L695.1 229.4L696.7 232.0L698.3 231.6" stroke="#0000ff"/>
<path d="M416.7 281.6L418.3 278.8L419.9 282.6L421.5 280.0L423.1 281.8L424.7 281.1L426.3 286.1L427.9 283.9L429.5 283.2L431.1 287.4L432.7 281.9L434.3 280.6L435.9 286.7L437.5 282.0L439.1 286.6L440.7 285.0L442.3 286.4L443.9 286.6L445.5 284.6L447.1 287.0L448.7 280.4L450.3 283.5L451.9 280.8L453.5 283.0L455.1 281.8L456.7 280.2L458.3 277.5L459.9 279.7L461.5 275.8L463.1 276.3L464.7 281.2L466.3 277.8L467.9 273.6L469.5 274.5L471.1 272.9L472.7 276.3L474.3 275.2L475.9 276.0L477.5 275.6L479.1 274.2L480.7 267.9L482.3 267.7L483.9 267.5L485.5 263.5L487.1 261.6L488.7 260.7L490.3 258.7L491.9 260.0L493.5 258.9L495.1 262.7L496.7 255.3L498.3 259.8L499.9 258.8L501.5 262.7L503.1 265.6L504.7 270.5L506.3 269.2L507.9 271.4L509.5 275.4L511.1 277.9L512.7 279.4L514.3 278.9L515.9 278.3L517.5 278.1L519.1 278.2L520.7 276.8L522.3 276.8L523.9 282.8L525.5 281.1L527.1 281.2L528.7 283.8L530.3 279.9L531.9 282.5L533.5 279.4L535.1 285.1L536.7 284.4L538.3 284.8L539.9 284.0L541.5 279.6L543.1 276.1L544.7 279.3L546.3 274.6L547.9 279.6L549.5 279.0L551.1 277.9L552.7 276.4L554.3 280.3L555.9 279.3L557.5 279.8L559.1 276.4L560.7 281.3L562.3 279.0L563.9 280.1L565.5 281.1L567.1 277.9L568.7 279.5L570.3 278.2L571.9 274.8L573.5 276.0L575.1 279.1L576.7 280.8L578.3 280.5L579.9 278.2L581.5 281.8L583.1 276.5L584.7 275.2L586.3 280.1L587.9 280.4L589.5 276.8L591.1 278.1L592.7 277.9L594.3 275.3L595.9 278.4L597.5 281.1L599.1 275.3L600.7 277.9L602.3 275.5L603.9 274.7L605.5 276.7L607.1 277.2L608.7 277.4L610.3 276.4L611.9 276.6L613.5 276.5L615.1 275.9L616.7 277.8L618.3 279.3L619.9 273.0L621.5 277.4L623.1 276.5L624.7 277.0L626.3 277.9L627.9 277.5L629.5 276.6L631.1 279.8L632.7 277.9L634.3 276.9L635.9 280.0L637.5 277.6L639.1 275.1L640.7 277.4L642.3 276.8L643.9 281.1L645.5 275.1L647.1 277.5L648.7 276.7L650.3 277.9L651.9 276.5L653.5 275.6L655.1 274.1L656.7 278.2L658.3 278.9L659.9 278.4L661.5 283.7L663.1 283.3L664.7 283.6L666.3 280.0L667.9 280.5L669.5 278.6L671.1 281.6L672.7 277.9L674.3 276.6L675.9 275.0L677.5 275.3L679.1 277.0L680.7 271.1L682.3 276.1L683.9 282.1L685.5 281.8L687.1 282.3L688.7 288.6L690.3 285.4L691.9 286.5L693.5 284.9L695.1 290.4L696.7 283.5L698.3 282.5" stroke="#ff0000"/>
<path d="M416.7 285.5L418.3 287.4L419.9 289.5L421.5 285.3L423.1 283.7L424.7 288.3L426.3 285.3L427.9 285.0L429.5 280.5L431.1 282.6L432.7 279.7L434.3 284.2L435.9 284.1L437.5 283.8L439.1 285.2L440.7 287.4L442.3 283.7L443.9 284.0L445.5 280.1L447.1 279.9L448.7 281.9L450.3 286.1L451.9 280.0L453.5 284.5L455.1 282.0L456.7 283.3L458.3 289.9L459.9 287.0L461.5 284.2L463.1 281.4L464.7 288.8L466.3 289.3L467.9 289.1L469.5 289.1L471.1 286.8L472.7 286.3L474.3 286.9L475.9 284.5L477.5 285.8L479.1 292.2L480.7 291.7L482.3 296.1L483.9 294.6L485.5 290.1L487.1 293.4L488.7 292.5L490.3 298.8L491.9 301.6L493.5 295.3L495.1 307.8L496.7 301.6L498.3 303.9L499.9 298.3L501.5 292.3L503.1 287.9L504.7 292.9L506.3 291.9L507.9 289.2L509.5 287.0L511.1 285.5L512.7 285.4L514.3 291.1L515.9 289.4L517.5 287.9L519.1 285.2L520.7 279.4L522.3 284.7L523.9 280.2L525.5 283.6L527.1 283.9L528.7 286.6L530.3 282.3L531.9 281.0L533.5 284.6L535.1 280.6L536.7 282.1L538.3 284.1L539.9 283.7L541.5 287.8L543.1 287.6L544.7 286.2L546.3 289.5L547.9 290.4L549.5 291.8L551.1 288.4L552.7 288.4L554.3 279.0L555.9 285.0L557.5 288.4L559.1 283.9L560.7 284.7L562.3 282.7L563.9 290.2L565.5 287.6L567.1 289.5L568.7 289.1L570.3 290.8L571.9 291.3L573.5 290.7L575.1 286.8L576.7 285.6L578.3 285.8L579.9 285.8L581.5 281.9L583.1 286.2L584.7 284.2L586.3 281.8L587.9 282.4L589.5 286.2L591.1 286.6L592.7 283.6L594.3 290.1L595.9 287.1L597.5 292.0L599.1 287.5L600.7 286.1L602.3 291.8L603.9 291.2L605.5 289.9L607.1 291.4L608.7 290.5L610.3 297.2L611.9 290.0L613.5 289.0L615.1 283.3L616.7 282.6L618.3 283.6L619.9 288.2L621.5 288.0L623.1 286.1L624.7 285.5L626.3 288.8L627.9 289.2L629.5 290.0L631.1 289.0L632.7 285.6L634.3 286.8L635.9 291.9L637.5 285.0L639.1 288.4L640.7 284.2L642.3 287.5L643.9 285.9L645.5 285.5L647.1 282.2L648.7 283.9L650.3 279.2L651.9 285.7L653.5 284.8L655.1 287.2L656.7 291.2L658.3 289.8L659.9 283.5L661.5 283.5L663.1 280.4L664.7 279.3L666.3 279.2L667.9 279.3L669.5 280.0L671.1 280.7L672.7 283.0L674.3 286.9L675.9 286.5L677.5 280.6L679.1 285.0L680.7 283.9L682.3 284.7L683.9 284.0L685.5 278.7L687.1 282.2L688.7 279.0L690.3 283.5L691.9 288.2L693.5 280.6L695.1 280.4L696.7 280.1L698.3 288.5" stroke="#0000ff"/>
<path d="M416.7 348.8L418.3 343.6L419.9 342.7L421.5 343.6L423.1 344.7L424.7 345.6L426.3 343.7L427.9 348.1L429.5 342.2L431.1 342.2L432.7 341.6L434.3 343.4L435.9 342.1L437.5 337.9L439.1 342.5L440.7 338.9L442.3 338.7L443.9 342.8L445.5 338.0L447.1 335.4L448.7 330.7L450.3 332.8L451.9 336.2L453.5 332.0L455.1 326.7L456.7 326.3L458.3 322.9L459.9 318.9L461.5 316.9L463.1 313.5L464.7 309.4L466.3 311.2L467.9 303.1L469.5 305.2L471.1 303.8L472.7 298.7L474.3 302.1L475.9 301.7L477.5 299.6L479.1 306.6L480.7 311.0L482.3 318.4L483.9 327.8L485.5 328.3L487.1 322.6L488.7 327.1L490.3 331.0L491.9 333.2L493.5 328.9L495.1 332.8L496.7 333.2L498.3 334.6L499.9 334.4L501.5 333.6L503.1 334.1L504.7 337.9L506.3 335.6L507.9 335.7L509.5 340.8L511.1 340.1L512.7 340.5L514.3 339.6L515.9 337.9L517.5 339.2L519.1 336.3L520.7 336.6L522.3 337.1L523.9 339.2L525.5 339.3L527.1 336.8L528.7 337.4L530.3 332.2L531.9 336.9L533.5 333.2L535.1 333.7L536.7 331.9L538.3 330.0L539.9 335.2L541.5 334.3L543.1 337.9L544.7 339.4L546.3 340.2L547.9 336.1L549.5 338.5L551.1 336.9L552.7 337.1L554.3 340.2L555.9 333.6L557.5 337.8L559.1 336.5L560.7 336.0L562.3 336.9L563.9 337.5L565.5 336.8L567.1 333.3L568.7 333.0L570.3 335.5L571.9 337.2L573.5 335.5L575.1 338.3L576.7 336.5L578.3 334.6L579.9 340.3L581.5 334.4L583.1 334.0L584.7 336.6L586.3 334.0L587.9 335.8L589.5 335.2L591.1 337.1L592.7 333.9L594.3 335.2L595.9 336.1L597.5 336.2L599.1 332.5L600.7 336.5L602.3 330.0L603.9 331.5L605.5 333.5L607.1 338.0L608.7 333.2L610.3 335.7L611.9 334.5L613.5 335.5L615.1 334.3L616.7 334.4L618.3 335.2L619.9 333.3L621.5 331.9L623.1 333.3L624.7 335.9L626.3 336.4L627.9 330.7L629.5 330.5L631.1 331.2L632.7 331.4L634.3 334.1L635.9 330.8L637.5 331.6L639.1 333.7L640.7 332.7L642.3 332.9L643.9 333.9L645.5 334.8L647.1 336.8L648.7 333.2L650.3 336.5L651.9 338.0L653.5 339.5L655.1 337.6L656.7 337.4L658.3 336.0L659.9 336.9L661.5 337.5L663.1 339.0L664.7 340.3L666.3 338.8L667.9 340.5L669.5 339.3L671.1 341.1L672.7 340.6L674.3 345.1L675.9 346.3L677.5 344.6L679.1 343.5L680.7 342.0L682.3 344.1L683.9 341.6L685.5 340.4L687.1 340.8L688.7 338.1L690.3 339.4L691.9 341.5L693.5 340.1L695.1 339.3L696.7 341.9L698.3 341.9" stroke="#ff0000"/>
<path d="M416.7 341.9L418.3 341.9L419.9 339.6L421.5 342.6L423.1 342.9L424.7 338.2L426.3 343.2L427.9 340.7L429.5 344.8L431.1 341.7L432.7 340.0L434.3 346.2L435.9 346.4L437.5 345.5L439.1 344.6L440.7 341.5L442.3 345.4L443.9 340.6L445.5 346.0L447.1 345.6L448.7 345.4L450.3 346.5L451.9 341.9L453.5 351.0L455.1 351.8L456.7 353.2L458.3 358.6L459.9 361.1L461.5 363.9L463.1 365.6L464.7 374.2L466.3 375.6L467.9 374.4L469.5 380.5L471.1 384.1L472.7 389.4L474.3 382.9L475.9 377.7L477.5 373.3L479.1 366.4L480.7 356.7L482.3 358.1L483.9 352.8L485.5 352.0L487.1 347.7L488.7 340.7L490.3 346.0L491.9 341.3L493.5 352.9L495.1 348.2L496.7 344.9L498.3 346.9L499.9 350.6L501.5 351.6L503.1 347.4L504.7 347.9L506.3 350.3L507.9 349.1L509.5 345.8L511.1 343.1L512.7 346.2L514.3 349.2L515.9 349.8L517.5 352.0L519.1 350.3L520.7 349.7L522.3 348.2L523.9 356.6L525.5 353.5L527.1 351.7L528.7 349.8L530.3 349.3L531.9 348.6L533.5 350.0L535.1 348.0L536.7 349.7L538.3 347.9L539.9 348.6L541.5 348.0L543.1 346.1L544.7 347.2L546.3 347.3L547.9 346.0L549.5 350.3L551.1 344.6L552.7 348.8L554.3 348.1L555.9 346.5L557.5 346.8L559.1 341.3L560.7 344.8L562.3 344.4L563.9 341.2L565.5 340.3L567.1 341.3L568.7 341.4L570.3 343.3L571.9 343.2L573.5 344.0L575.1 343.7L576.7 344.1L578.3 346.8L579.9 347.6L581.5 349.5L583.1 352.9L584.7 349.3L586.3 348.1L587.9 347.1L589.5 350.6L591.1 355.5L592.7 350.2L594.3 346.0L595.9 345.2L597.5 342.7L599.1 338.9L600.7 345.8L602.3 344.9L603.9 347.8L605.5 348.3L607.1 351.9L608.7 354.9L610.3 351.1L611.9 353.8L613.5 353.7L615.1 355.7L616.7 351.5L618.3 351.7L619.9 353.9L621.5 346.9L623.1 351.7L624.7 348.0L626.3 350.3L627.9 344.0L629.5 344.1L631.1 343.2L632.7 344.3L634.3 347.4L635.9 350.0L637.5 350.5L639.1 344.4L640.7 342.0L642.3 343.3L643.9 345.9L645.5 345.3L647.1 345.2L648.7 346.7L650.3 344.3L651.9 344.9L653.5 344.8L655.1 348.4L656.7 347.1L658.3 347.5L659.9 344.6L661.5 339.0L663.1 342.9L664.7 337.6L666.3 339.9L667.9 339.1L669.5 345.9L671.1 342.6L672.7 343.3L674.3 345.9L675.9 344.6L677.5 340.1L679.1 344.9L680.7 347.5L682.3 341.3L683.9 342.4L685.5 343.8L687.1 344.8L688.7 345.8L690.3 349.8L691.9 345.9L693.5 345.2L695.1 342.4L696.7 346.2L698.3 344.1" stroke="#0000ff"/>
<path d="M416.7 426.6L418.3 424.5L419.9 423.6L421.5 425.1L423.1 422.9L424.7 424.1L426.3 421.0L427.9 421.1L429.5 415.5L431.1 415.3L432.7 408.4L434.3 412.0L435.9 409.2L437.5 412.7L439.1 407.9L440.7 397.2L442.3 398.9L443.9 401.0L445.5 398.9L447.1 394.7L448.7 392.8L450.3 397.3L451.9 399.0L453.5 399.7L455.1 399.3L456.7 398.3L458.3 390.8L459.9 393.1L461.5 390.8L463.1 394.7L464.7 395.5L466.3 400.9L467.9 401.6L469.5 400.6L471.1 393.8L472.7 398.7L474.3 396.2L475.9 400.4L477.5 402.1L479.1 401.7L480.7 404.5L482.3 402.2L483.9 403.3L485.5 406.4L487.1 407.1L488.7 406.6L490.3 407.9L491.9 409.9L493.5 405.7L495.1 406.4L496.7 404.1L498.3 405.6L499.9 410.7L501.5 415.8L503.1 417.1L504.7 419.9L506.3 418.7L507.9 428.3L509.5 427.8L511.1 421.8L512.7 421.1L514.3 418.3L515.9 424.1L517.5 421.5L519.1 419.7L520.7 420.9L522.3 416.9L523.9 416.1L525.5 419.4L527.1 420.1L528.7 422.5L530.3 421.4L531.9 421.4L533.5 417.9L535.1 416.1L536.7 416.6L538.3 420.3L539.9 421.3L541.5 419.3L543.1 424.5L544.7 422.6L546.3 420.0L547.9 420.6L549.5 417.8L551.1 418.7L552.7 417.8L554.3 421.6L555.9 415.2L557.5 420.2L559.1 412.8L560.7 416.7L562.3 419.7L563.9 416.6L565.5 419.2L567.1 419.6L568.7 417.7L570.3 414.1L571.9 419.7L573.5 417.6L575.1 416.9L576.7 417.7L578.3 422.3L579.9 420.9L581.5 418.9L583.1 420.2L584.7 423.0L586.3 428.2L587.9 428.3L589.5 425.6L591.1 425.9L592.7 420.9L594.3 417.1L595.9 417.9L597.5 427.6L599.1 430.9L600.7 422.4L602.3 418.2L603.9 421.0L605.5 430.5L607.1 427.1L608.7 422.2L610.3 424.5L611.9 420.9L613.5 425.0L615.1 424.7L616.7 420.9L618.3 421.1L619.9 421.9L621.5 426.6L623.1 424.6L624.7 424.9L626.3 425.1L627.9 420.2L629.5 421.0L631.1 419.6L632.7 432.8L634.3 442.4L635.9 434.6L637.5 429.3L639.1 425.4L640.7 429.4L642.3 423.1L643.9 427.8L645.5 430.6L647.1 431.8L648.7 435.7L650.3 431.2L651.9 426.3L653.5 429.1L655.1 428.8L656.7 428.8L658.3 426.0L659.9 424.9L661.5 426.6L663.1 427.5L664.7 428.5L666.3 430.7L667.9 431.1L669.5 435.5L671.1 433.7L672.7 431.6L674.3 432.8L675.9 431.3L677.5 430.0L679.1 428.0L680.7 428.8L682.3 428.7L683.9 429.8L685.5 429.6L687.1 430.8L688.7 425.3L690.3 427.2L691.9 428.4L693.5 429.5L695.1 428.1L696.7 427.7L698.3 429.4" stroke="#ff0000"/>
<path d="M416.7 429.1L418.3 432.2L419.9 429.4L421.5 431.9L423.1 433.0L424.7 434.3L426.3 429.3L427.9 432.9L429.5 436.4L431.1 433.6L432.7 440.1L434.3 441.2L435.9 445.1L437.5 452.1L439.1 472.9L440.7 490.5L442.3 509.3L443.9 519.8L445.5 520.6L447.1 529.0L448.7 523.5L450.3 523.8L451.9 525.1L453.5 523.6L455.1 519.5L456.7 513.7L458.3 505.3L459.9 501.9L461.5 501.6L463.1 490.4L464.7 487.8L466.3 476.3L467.9 468.2L469.5 460.4L471.1 450.1L472.7 447.3L474.3 442.4L475.9 445.9L477.5 442.1L479.1 446.7L480.7 441.6L482.3 443.0L483.9 444.8L485.5 449.5L487.1 446.4L488.7 444.2L490.3 448.2L491.9 444.6L493.5 441.5L495.1 444.9L496.7 442.1L498.3 444.1L499.9 440.7L501.5 438.8L503.1 442.4L504.7 445.4L506.3 442.4L507.9 444.8L509.5 448.5L511.1 443.7L512.7 441.9L514.3 447.1L515.9 445.6L517.5 447.9L519.1 446.4L520.7 447.4L522.3 447.8L523.9 446.6L525.5 450.7L527.1 447.3L528.7 453.5L530.3 450.5L531.9 449.6L533.5 454.1L535.1 452.2L536.7 445.5L538.3 451.5L539.9 453.1L541.5 451.6L543.1 453.8L544.7 453.1L546.3 454.3L547.9 448.7L549.5 453.6L551.1 451.5L552.7 449.9L554.3 450.9L555.9 446.2L557.5 448.3L559.1 448.6L560.7 446.6L562.3 447.9L563.9 445.9L565.5 445.5L567.1 446.1L568.7 444.6L570.3 451.7L571.9 444.3L573.5 443.7L575.1 446.2L576.7 444.1L578.3 444.0L579.9 439.9L581.5 442.2L583.1 437.7L584.7 436.5L586.3 436.7L587.9 433.2L589.5 436.4L591.1 432.8L592.7 430.9L594.3 429.5L595.9 431.0L597.5 431.7L599.1 425.8L600.7 429.3L602.3 431.5L603.9 433.9L605.5 430.8L607.1 436.0L608.7 430.3L610.3 434.0L611.9 436.6L613.5 432.1L615.1 432.8L616.7 436.7L618.3 442.6L619.9 440.1L621.5 441.6L623.1 444.5L624.7 443.3L626.3 439.7L627.9 440.5L629.5 447.0L631.1 443.9L632.7 440.9L634.3 439.2L635.9 443.0L637.5 445.3L639.1 442.2L640.7 445.5L642.3 443.9L643.9 441.6L645.5 443.3L647.1 445.4L648.7 439.8L650.3 437.2L651.9 433.4L653.5 436.9L655.1 436.9L656.7 436.6L658.3 435.5L659.9 439.5L661.5 438.5L663.1 439.8L664.7 443.0L666.3 435.1L667.9 436.9L669.5 436.7L671.1 430.7L672.7 430.3L674.3 433.0L675.9 431.8L677.5 431.5L679.1 429.1L680.7 424.3L682.3 435.0L683.9 429.9L685.5 431.9L687.1 434.3L688.7 436.6L690.3 434.9L691.9 430.0L693.5 430.5L695.1 430.3L696.7 432.3L698.3 437.1" stroke="#0000ff"/>
</g>
<g stroke="#000" stroke-width="2.4"><line x1="254.7" y1="195.3" x2="289.5" y2="195.3"/><line x1="254.7" y1="232.6" x2="289.5" y2="232.6"/><line x1="272.1" y1="195.3" x2="272.1" y2="232.6"/></g>
<g stroke="#000" stroke-width="2.4"><line x1="197.8" y1="260.2" x2="232.6" y2="260.2"/><line x1="197.8" y1="290.4" x2="232.6" y2="290.4"/><line x1="215.2" y1="260.2" x2="215.2" y2="290.4"/></g>
<g stroke="#000" stroke-width="2.4"><line x1="154.7" y1="290.0" x2="189.5" y2="290.0"/><line x1="154.7" y1="353.8" x2="189.5" y2="353.8"/><line x1="172.1" y1="290.0" x2="172.1" y2="353.8"/></g>
<g stroke="#000" stroke-width="2.4"><line x1="155.3" y1="370.5" x2="190.1" y2="370.5"/><line x1="155.3" y1="470.5" x2="190.1" y2="470.5"/><line x1="172.7" y1="370.5" x2="172.7" y2="470.5"/></g>
<rect x="209.3" y="197.2" width="18.2" height="18.2" fill="#ff0080" stroke="#000" stroke-width="2.1"/><circle cx="218.4" cy="206.3" r="0.8" fill="#000"/>
<rect x="184.2" y="257.7" width="18.2" height="18.2" fill="#ff0080" stroke="#000" stroke-width="2.1"/><circle cx="193.3" cy="266.8" r="0.8" fill="#000"/>
<rect x="141.0" y="317.1" width="18.2" height="18.2" fill="#ff0080" stroke="#000" stroke-width="2.1"/><circle cx="150.1" cy="326.2" r="0.8" fill="#000"/>
<rect x="136.6" y="420.7" width="18.2" height="18.2" fill="#ff0080" stroke="#000" stroke-width="2.1"/><circle cx="145.7" cy="429.8" r="0.8" fill="#000"/>
<g stroke="#000" stroke-width="2.4"><line x1="570.3" y1="150.7" x2="605.1" y2="150.7"/><line x1="570.3" y1="174.0" x2="605.1" y2="174.0"/><line x1="587.7" y1="150.7" x2="587.7" y2="174.0"/></g>
<g stroke="#000" stroke-width="2.4"><line x1="566.7" y1="200.9" x2="601.5" y2="200.9"/><line x1="566.7" y1="251.9" x2="601.5" y2="251.9"/><line x1="584.1" y1="200.9" x2="584.1" y2="251.9"/></g>
<g stroke="#000" stroke-width="2.4"><line x1="478.4" y1="260.0" x2="513.2" y2="260.0"/><line x1="478.4" y1="305.7" x2="513.2" y2="305.7"/><line x1="495.8" y1="260.0" x2="495.8" y2="305.7"/></g>
<g stroke="#000" stroke-width="2.4"><line x1="455.9" y1="298.4" x2="490.7" y2="298.4"/><line x1="455.9" y1="385.5" x2="490.7" y2="385.5"/><line x1="473.3" y1="298.4" x2="473.3" y2="385.5"/></g>
<g stroke="#000" stroke-width="2.4"><line x1="434.6" y1="397.4" x2="469.4" y2="397.4"/><line x1="434.6" y1="522.8" x2="469.4" y2="522.8"/><line x1="452.0" y1="397.4" x2="452.0" y2="522.8"/></g>
<circle cx="548.6" cy="166.0" r="10.6" fill="#ff0080" stroke="#000" stroke-width="2.2"/><circle cx="548.6" cy="166.0" r="0.8" fill="#000"/>
<circle cx="528.2" cy="223.8" r="10.6" fill="#ff0080" stroke="#000" stroke-width="2.2"/><circle cx="528.2" cy="223.8" r="0.8" fill="#000"/>
<circle cx="458.2" cy="282.3" r="10.6" fill="#ff0080" stroke="#000" stroke-width="2.2"/><circle cx="458.2" cy="282.3" r="0.8" fill="#000"/>
<circle cx="441.2" cy="337.8" r="10.6" fill="#ff0080" stroke="#000" stroke-width="2.2"/><circle cx="441.2" cy="337.8" r="0.8" fill="#000"/>
<path d="M429.1 417.0L442.4 439.0L415.9 439.0Z" fill="#ff0080" stroke="#000" stroke-width="2.3" stroke-linejoin="miter"/><circle cx="429.1" cy="431.7" r="0.8" fill="#000"/>
<rect x="416.3" y="48.6" width="282.7" height="484.6" fill="none" stroke="#000" stroke-width="1.7"/>
<path d="M866.3 545.7L866.3 328.6L869.1 329.2L871.8 329.7L874.6 330.3L877.4 330.8L880.2 331.4L882.9 331.9L885.7 332.5L888.5 333.0L891.3 333.6L894.0 334.2L896.8 334.7L899.6 335.3L902.4 335.8L905.1 336.4L907.9 337.0L910.7 337.5L913.5 338.1L916.2 338.7L919.0 339.3L921.8 339.8L924.6 340.4L927.3 341.0L930.1 341.6L932.9 342.1L935.7 342.7L938.4 343.3L941.2 343.9L944.0 344.5L946.8 345.1L949.5 345.7L952.3 346.3L955.1 346.9L957.9 347.4L960.6 348.0L963.4 348.6L966.2 349.2L969.0 349.9L971.7 350.5L974.5 351.1L977.3 351.7L980.1 352.3L982.8 352.9L985.6 353.5L988.4 354.1L991.2 354.7L993.9 355.4L996.7 356.0L999.5 356.6L1002.3 357.2L1005.0 357.9L1007.8 358.5L1010.6 359.1L1013.4 359.8L1016.1 360.4L1018.9 361.1L1021.7 361.7L1024.5 362.3L1027.2 363.0L1030.0 363.6L1032.8 364.3L1035.6 364.9L1038.3 365.6L1041.1 366.3L1043.9 366.9L1046.7 367.6L1049.4 368.2L1052.2 368.9L1055.0 369.6L1057.8 370.3L1060.5 370.9L1063.3 371.6L1066.1 372.3L1068.9 373.0L1071.6 373.7L1074.4 374.4L1077.2 375.0L1080.0 375.7L1082.7 376.4L1085.5 377.1L1088.3 377.8L1091.1 378.6L1093.8 379.3L1096.6 380.0L1099.4 380.7L1102.2 381.4L1104.9 382.1L1107.7 382.9L1110.5 383.6L1113.3 384.3L1116.0 385.1L1118.8 385.8L1121.6 386.5L1124.4 387.3L1127.1 388.0L1129.9 388.8L1132.7 389.5L1135.5 390.3L1138.2 391.1L1141.0 391.8L1143.8 392.6L1146.6 393.4L1149.3 394.2L1152.1 394.9L1154.9 395.7L1157.7 396.5L1160.4 397.3L1163.2 398.1L1166.0 398.9L1168.8 399.7L1171.5 400.5L1174.3 401.4L1177.1 402.2L1179.9 403.0L1182.6 403.8L1185.4 404.7L1188.2 405.5L1191.0 406.4L1193.7 407.2L1196.5 408.1L1199.3 408.9L1202.1 409.8L1204.8 410.7L1207.6 411.6L1210.4 412.4L1213.1 413.3L1215.9 414.2L1218.7 415.1L1221.5 416.0L1224.2 417.0L1227.0 417.9L1229.8 418.8L1232.6 419.7L1235.3 420.7L1238.1 421.6L1240.9 422.6L1243.7 423.6L1246.4 424.5L1249.2 425.5L1252.0 426.5L1254.8 427.5L1257.5 428.5L1260.3 429.5L1263.1 430.6L1265.9 431.6L1268.6 432.6L1271.4 433.7L1274.2 434.7L1277.0 435.8L1279.7 436.9L1282.5 438.0L1285.3 439.1L1288.1 440.2L1290.8 441.3L1293.6 442.5L1296.4 443.6L1299.2 444.8L1301.9 446.0L1304.7 447.2L1307.5 448.4L1310.3 449.6L1313.0 450.8L1315.8 452.1L1318.6 453.4L1321.4 454.7L1324.1 456.0L1326.9 457.3L1329.7 458.7L1332.5 460.0L1335.2 461.4L1338.0 462.8L1340.8 464.3L1343.6 465.7L1346.3 467.2L1349.1 468.8L1351.9 470.3L1354.7 471.9L1357.4 473.5L1360.2 475.2L1363.0 476.9L1365.8 478.6L1368.5 480.4L1371.3 482.3L1374.1 484.2L1376.9 486.1L1379.6 488.1L1382.4 490.2L1385.2 492.4L1388.0 494.7L1390.7 497.0L1393.5 499.5L1396.3 502.2L1399.1 505.0L1401.8 508.0L1404.6 511.3L1407.4 514.9L1410.2 519.0L1412.9 523.9L1415.7 530.3L1418.5 545.7L1418.5 545.7Z" fill="url(#pg)"/>
<g stroke="#333" stroke-width="1.1"><line x1="890.3" y1="545.7" x2="890.3" y2="541.0"/><line x1="890.3" y1="46.3" x2="890.3" y2="51.0"/><line x1="890.3" y1="291.5" x2="890.3" y2="300.9"/><line x1="914.3" y1="545.7" x2="914.3" y2="541.0"/><line x1="914.3" y1="46.3" x2="914.3" y2="51.0"/><line x1="914.3" y1="291.5" x2="914.3" y2="300.9"/><line x1="938.3" y1="545.7" x2="938.3" y2="541.0"/><line x1="938.3" y1="46.3" x2="938.3" y2="51.0"/><line x1="938.3" y1="291.5" x2="938.3" y2="300.9"/><line x1="962.3" y1="545.7" x2="962.3" y2="541.0"/><line x1="962.3" y1="46.3" x2="962.3" y2="51.0"/><line x1="962.3" y1="291.5" x2="962.3" y2="300.9"/><line x1="986.3" y1="545.7" x2="986.3" y2="536.2"/><line x1="986.3" y1="46.3" x2="986.3" y2="55.8"/><line x1="986.3" y1="286.7" x2="986.3" y2="305.7"/><line x1="1010.3" y1="545.7" x2="1010.3" y2="541.0"/><line x1="1010.3" y1="46.3" x2="1010.3" y2="51.0"/><line x1="1010.3" y1="291.5" x2="1010.3" y2="300.9"/><line x1="1034.4" y1="545.7" x2="1034.4" y2="541.0"/><line x1="1034.4" y1="46.3" x2="1034.4" y2="51.0"/><line x1="1034.4" y1="291.5" x2="1034.4" y2="300.9"/><line x1="1058.4" y1="545.7" x2="1058.4" y2="541.0"/><line x1="1058.4" y1="46.3" x2="1058.4" y2="51.0"/><line x1="1058.4" y1="291.5" x2="1058.4" y2="300.9"/><line x1="1082.4" y1="545.7" x2="1082.4" y2="541.0"/><line x1="1082.4" y1="46.3" x2="1082.4" y2="51.0"/><line x1="1082.4" y1="291.5" x2="1082.4" y2="300.9"/><line x1="1106.4" y1="545.7" x2="1106.4" y2="536.2"/><line x1="1106.4" y1="46.3" x2="1106.4" y2="55.8"/><line x1="1106.4" y1="286.7" x2="1106.4" y2="305.7"/><line x1="1130.4" y1="545.7" x2="1130.4" y2="541.0"/><line x1="1130.4" y1="46.3" x2="1130.4" y2="51.0"/><line x1="1130.4" y1="291.5" x2="1130.4" y2="300.9"/><line x1="1154.4" y1="545.7" x2="1154.4" y2="541.0"/><line x1="1154.4" y1="46.3" x2="1154.4" y2="51.0"/><line x1="1154.4" y1="291.5" x2="1154.4" y2="300.9"/><line x1="1178.4" y1="545.7" x2="1178.4" y2="541.0"/><line x1="1178.4" y1="46.3" x2="1178.4" y2="51.0"/><line x1="1178.4" y1="291.5" x2="1178.4" y2="300.9"/><line x1="1202.4" y1="545.7" x2="1202.4" y2="541.0"/><line x1="1202.4" y1="46.3" x2="1202.4" y2="51.0"/><line x1="1202.4" y1="291.5" x2="1202.4" y2="300.9"/><line x1="1226.4" y1="545.7" x2="1226.4" y2="536.2"/><line x1="1226.4" y1="46.3" x2="1226.4" y2="55.8"/><line x1="1226.4" y1="286.7" x2="1226.4" y2="305.7"/><line x1="1250.4" y1="545.7" x2="1250.4" y2="541.0"/><line x1="1250.4" y1="46.3" x2="1250.4" y2="51.0"/><line x1="1250.4" y1="291.5" x2="1250.4" y2="300.9"/><line x1="1274.4" y1="545.7" x2="1274.4" y2="541.0"/><line x1="1274.4" y1="46.3" x2="1274.4" y2="51.0"/><line x1="1274.4" y1="291.5" x2="1274.4" y2="300.9"/><line x1="1298.4" y1="545.7" x2="1298.4" y2="541.0"/><line x1="1298.4" y1="46.3" x2="1298.4" y2="51.0"/><line x1="1298.4" y1="291.5" x2="1298.4" y2="300.9"/><line x1="1322.5" y1="545.7" x2="1322.5" y2="541.0"/><line x1="1322.5" y1="46.3" x2="1322.5" y2="51.0"/><line x1="1322.5" y1="291.5" x2="1322.5" y2="300.9"/><line x1="1346.5" y1="545.7" x2="1346.5" y2="536.2"/><line x1="1346.5" y1="46.3" x2="1346.5" y2="55.8"/><line x1="1346.5" y1="286.7" x2="1346.5" y2="305.7"/><line x1="1370.5" y1="545.7" x2="1370.5" y2="541.0"/><line x1="1370.5" y1="46.3" x2="1370.5" y2="51.0"/><line x1="1370.5" y1="291.5" x2="1370.5" y2="300.9"/><line x1="1394.5" y1="545.7" x2="1394.5" y2="541.0"/><line x1="1394.5" y1="46.3" x2="1394.5" y2="51.0"/><line x1="1394.5" y1="291.5" x2="1394.5" y2="300.9"/><line x1="1418.5" y1="545.7" x2="1418.5" y2="541.0"/><line x1="1418.5" y1="46.3" x2="1418.5" y2="51.0"/><line x1="1418.5" y1="291.5" x2="1418.5" y2="300.9"/><line x1="1442.5" y1="545.7" x2="1442.5" y2="541.0"/><line x1="1442.5" y1="46.3" x2="1442.5" y2="51.0"/><line x1="1442.5" y1="291.5" x2="1442.5" y2="300.9"/><line x1="866.3" y1="271.2" x2="876.0" y2="271.2"/><line x1="1466.5" y1="271.2" x2="1456.8" y2="271.2"/><line x1="866.3" y1="246.2" x2="871.0" y2="246.2"/><line x1="1466.5" y1="246.2" x2="1461.8" y2="246.2"/><line x1="866.3" y1="221.2" x2="871.0" y2="221.2"/><line x1="1466.5" y1="221.2" x2="1461.8" y2="221.2"/><line x1="866.3" y1="196.2" x2="871.0" y2="196.2"/><line x1="1466.5" y1="196.2" x2="1461.8" y2="196.2"/><line x1="866.3" y1="171.2" x2="876.0" y2="171.2"/><line x1="1466.5" y1="171.2" x2="1456.8" y2="171.2"/><line x1="866.3" y1="146.3" x2="871.0" y2="146.3"/><line x1="1466.5" y1="146.3" x2="1461.8" y2="146.3"/><line x1="866.3" y1="121.3" x2="871.0" y2="121.3"/><line x1="1466.5" y1="121.3" x2="1461.8" y2="121.3"/><line x1="866.3" y1="96.3" x2="871.0" y2="96.3"/><line x1="1466.5" y1="96.3" x2="1461.8" y2="96.3"/><line x1="866.3" y1="71.3" x2="876.0" y2="71.3"/><line x1="1466.5" y1="71.3" x2="1456.8" y2="71.3"/><line x1="866.3" y1="533.2" x2="871.0" y2="533.2"/><line x1="1466.5" y1="533.2" x2="1461.8" y2="533.2"/><line x1="866.3" y1="520.8" x2="871.0" y2="520.8"/><line x1="1466.5" y1="520.8" x2="1461.8" y2="520.8"/><line x1="866.3" y1="508.3" x2="871.0" y2="508.3"/><line x1="1466.5" y1="508.3" x2="1461.8" y2="508.3"/><line x1="866.3" y1="495.8" x2="875.8" y2="495.8"/><line x1="1466.5" y1="495.8" x2="1457.0" y2="495.8"/><line x1="866.3" y1="483.3" x2="871.0" y2="483.3"/><line x1="1466.5" y1="483.3" x2="1461.8" y2="483.3"/><line x1="866.3" y1="470.9" x2="871.0" y2="470.9"/><line x1="1466.5" y1="470.9" x2="1461.8" y2="470.9"/><line x1="866.3" y1="458.4" x2="871.0" y2="458.4"/><line x1="1466.5" y1="458.4" x2="1461.8" y2="458.4"/><line x1="866.3" y1="445.9" x2="875.8" y2="445.9"/><line x1="1466.5" y1="445.9" x2="1457.0" y2="445.9"/><line x1="866.3" y1="433.4" x2="871.0" y2="433.4"/><line x1="1466.5" y1="433.4" x2="1461.8" y2="433.4"/><line x1="866.3" y1="421.0" x2="871.0" y2="421.0"/><line x1="1466.5" y1="421.0" x2="1461.8" y2="421.0"/><line x1="866.3" y1="408.5" x2="871.0" y2="408.5"/><line x1="1466.5" y1="408.5" x2="1461.8" y2="408.5"/><line x1="866.3" y1="396.0" x2="875.8" y2="396.0"/><line x1="1466.5" y1="396.0" x2="1457.0" y2="396.0"/><line x1="866.3" y1="383.5" x2="871.0" y2="383.5"/><line x1="1466.5" y1="383.5" x2="1461.8" y2="383.5"/><line x1="866.3" y1="371.1" x2="871.0" y2="371.1"/><line x1="1466.5" y1="371.1" x2="1461.8" y2="371.1"/><line x1="866.3" y1="358.6" x2="871.0" y2="358.6"/><line x1="1466.5" y1="358.6" x2="1461.8" y2="358.6"/><line x1="866.3" y1="346.1" x2="875.8" y2="346.1"/><line x1="1466.5" y1="346.1" x2="1457.0" y2="346.1"/><line x1="866.3" y1="333.6" x2="871.0" y2="333.6"/><line x1="1466.5" y1="333.6" x2="1461.8" y2="333.6"/><line x1="866.3" y1="321.2" x2="871.0" y2="321.2"/><line x1="1466.5" y1="321.2" x2="1461.8" y2="321.2"/><line x1="866.3" y1="308.7" x2="871.0" y2="308.7"/><line x1="1466.5" y1="308.7" x2="1461.8" y2="308.7"/></g>
<rect x="866.3" y="46.3" width="600.2" height="499.4" fill="none" stroke="#555" stroke-width="1.2"/>
<line x1="866.3" y1="296.2" x2="1466.5" y2="296.2" stroke="#777" stroke-width="1.2"/>
<text x="854.3" y="280.8" font-size="30.6" text-anchor="end">20</text>
<text x="854.3" y="180.8" font-size="30.6" text-anchor="end">40</text>
<text x="854.3" y="80.9" font-size="30.6" text-anchor="end">60</text>
<text x="854.3" y="556.1" font-size="30.6" text-anchor="end">0</text>
<text x="854.3" y="506.2" font-size="30.6" text-anchor="end">1</text>
<text x="854.3" y="456.3" font-size="30.6" text-anchor="end">2</text>
<text x="854.3" y="406.4" font-size="30.6" text-anchor="end">3</text>
<text x="854.3" y="356.5" font-size="30.6" text-anchor="end">4</text>
<text x="866.3" y="579.5" font-size="30.6" text-anchor="middle">0</text>
<text x="986.3" y="579.5" font-size="30.6" text-anchor="middle">5</text>
<text x="1106.4" y="579.5" font-size="30.6" text-anchor="middle">10</text>
<text x="1226.4" y="579.5" font-size="30.6" text-anchor="middle">15</text>
<text x="1346.5" y="579.5" font-size="30.6" text-anchor="middle">20</text>
<text x="1466.5" y="579.5" font-size="30.6" text-anchor="middle">25</text>
<text x="1166.4" y="621.4" font-size="29.5" text-anchor="middle">Pressure (kbar)</text>
<g transform="translate(795.1,0) rotate(-90)" fill="#ff0080"><text x="-206.5" y="0" font-size="31.5" font-style="italic">B</text><text x="-185.2" y="-16.5" font-size="21">*</text><text transform="translate(-170.3,0) scale(1,1.07)" font-size="27.6">(T)</text></g>
<text transform="translate(812,421.5) rotate(-90)" font-size="29.5" text-anchor="middle" fill="#800080"><tspan font-family="Liberation Serif">Δ</tspan> (μΩ cm)</text>
<path d="M921.2 64.7L932.5 84.1L909.9 84.1Z" fill="none" stroke="#000" stroke-width="1.5" stroke-linejoin="miter"/><circle cx="921.2" cy="77.6" r="0.8" fill="#000"/>
<circle cx="921" cy="116.8" r="9.3" fill="none" stroke="#000" stroke-width="1.5"/><circle cx="921" cy="116.8" r="0.8" fill="#000"/>
<rect x="912.8" y="148.2" width="16.5" height="16.5" fill="none" stroke="#000" stroke-width="1.5"/><circle cx="921" cy="156.5" r="0.8" fill="#000"/>
<text x="943" y="86" font-size="24.5">Sample 1</text>
<text x="943" y="124.8" font-size="24.5">Sample 2</text>
<text x="943" y="163" font-size="24.5">Sample 3</text>
<path d="M866.3 219.5L877.8 238.5L854.8 238.5Z" fill="#ff0080" stroke="#000" stroke-width="2.3" stroke-linejoin="miter"/><circle cx="866.3" cy="232.2" r="0.8" fill="#000"/>
<rect x="1065.8" y="214.1" width="18.2" height="18.2" fill="#ff0080" stroke="#000" stroke-width="2.1"/><circle cx="1074.9" cy="223.2" r="0.8" fill="#000"/>
<circle cx="1082.4" cy="232.3" r="10.6" fill="#ff0080" stroke="#000" stroke-width="2.2"/><circle cx="1082.4" cy="232.3" r="0.8" fill="#000"/>
<rect x="1121.1" y="204.4" width="18.2" height="18.2" fill="#ff0080" stroke="#000" stroke-width="2.1"/><circle cx="1130.2" cy="213.5" r="0.8" fill="#000"/>
<circle cx="1168.5" cy="227.2" r="10.6" fill="#ff0080" stroke="#000" stroke-width="2.2"/><circle cx="1168.5" cy="227.2" r="0.8" fill="#000"/>
<circle cx="1267.3" cy="197.9" r="10.6" fill="#ff0080" stroke="#000" stroke-width="2.2"/><circle cx="1267.3" cy="197.9" r="0.8" fill="#000"/>
<rect x="1296.4" y="166.1" width="18.2" height="18.2" fill="#ff0080" stroke="#000" stroke-width="2.1"/><circle cx="1305.5" cy="175.2" r="0.8" fill="#000"/>
<circle cx="1320.2" cy="178.3" r="10.6" fill="#ff0080" stroke="#000" stroke-width="2.2"/><circle cx="1320.2" cy="178.3" r="0.8" fill="#000"/>
<rect x="1337.3" y="150.9" width="18.2" height="18.2" fill="#ff0080" stroke="#000" stroke-width="2.1"/><circle cx="1346.4" cy="160.0" r="0.8" fill="#000"/>
<path d="M866.4 231.4L873.4 231.4M882.4 231.3L889.4 231.2M898.6 231.1L905.6 231.0M914.1 230.9L921.1 230.9M931.3 230.7L938.3 230.6M947.7 230.5L954.7 230.3M963.8 230.2L970.8 230.0M980.2 229.8L987.2 229.7M996.6 229.4L1003.6 229.2M1012.9 229.0L1019.9 228.7M1029.1 228.4L1036.1 228.2M1045.3 227.8L1052.3 227.5M1062.1 227.1L1069.1 226.7M1078.3 226.2L1085.3 225.8M1094.5 225.2L1101.5 224.8M1110.7 224.1L1117.7 223.5M1126.9 222.8L1133.9 222.1M1142.5 221.3L1149.4 220.5M1159.3 219.4L1166.3 218.6M1175.5 217.3L1182.4 216.3M1191.7 214.9L1198.6 213.8M1207.3 212.2L1214.2 210.9M1222.6 209.1L1229.4 207.6M1237.2 205.8L1244.0 204.0M1251.9 201.9L1258.6 200.0M1266.5 197.5L1273.1 195.3M1281.3 192.3L1287.8 189.8M1296.0 186.5L1302.4 183.7M1311.2 179.6L1317.5 176.4M1324.3 172.7L1330.4 169.3M1337.6 164.9L1343.5 161.1M1350.6 156.2L1356.3 152.1M1363.8 146.3L1369.2 141.9M1376.1 135.9L1381.3 131.1M1388.0 124.6L1392.9 119.6" fill="none" stroke="#000" stroke-width="4"/>
<path d="M866.2 311.8L880.0 335.2L852.5 335.2Z" fill="#dbb0ff" stroke="#333" stroke-width="0.8" stroke-linejoin="miter"/><circle cx="866.2" cy="327.4" r="0.8" fill="#000"/>
<rect x="1072.9" y="360.8" width="18.8" height="18.8" fill="#dbb0ff" stroke="#000" stroke-width="1.8"/><circle cx="1082.3" cy="370.2" r="0.8" fill="#000"/>
<circle cx="1074.9" cy="399.4" r="10.6" fill="#dbb0ff" stroke="#000" stroke-width="1.8"/><circle cx="1074.9" cy="399.4" r="0.8" fill="#000"/>
<rect x="1159.3" y="422.3" width="18.8" height="18.8" fill="#dbb0ff" stroke="#000" stroke-width="1.8"/><circle cx="1168.7" cy="431.7" r="0.8" fill="#000"/>
<circle cx="1130.2" cy="470.7" r="10.6" fill="#dbb0ff" stroke="#000" stroke-width="1.8"/><circle cx="1130.2" cy="470.7" r="0.8" fill="#000"/>
<rect x="1257.8" y="484.4" width="18.8" height="18.8" fill="#dbb0ff" stroke="#000" stroke-width="1.8"/><circle cx="1267.2" cy="493.8" r="0.8" fill="#000"/>
<circle cx="1305.5" cy="453.0" r="10.6" fill="#dbb0ff" stroke="#000" stroke-width="1.8"/><circle cx="1305.5" cy="453.0" r="0.8" fill="#000"/>
<rect x="1310.8" y="472.8" width="18.8" height="18.8" fill="#dbb0ff" stroke="#000" stroke-width="1.8"/><circle cx="1320.2" cy="482.2" r="0.8" fill="#000"/>
<circle cx="1346.6" cy="505.6" r="10.6" fill="#dbb0ff" stroke="#000" stroke-width="1.8"/><circle cx="1346.6" cy="505.6" r="0.8" fill="#000"/>
<rect x="1421.3" y="536.2" width="18.8" height="18.8" fill="#dbb0ff" stroke="#000" stroke-width="1.8"/><circle cx="1430.7" cy="545.6" r="0.8" fill="#000"/>
</svg>
</body></html>
